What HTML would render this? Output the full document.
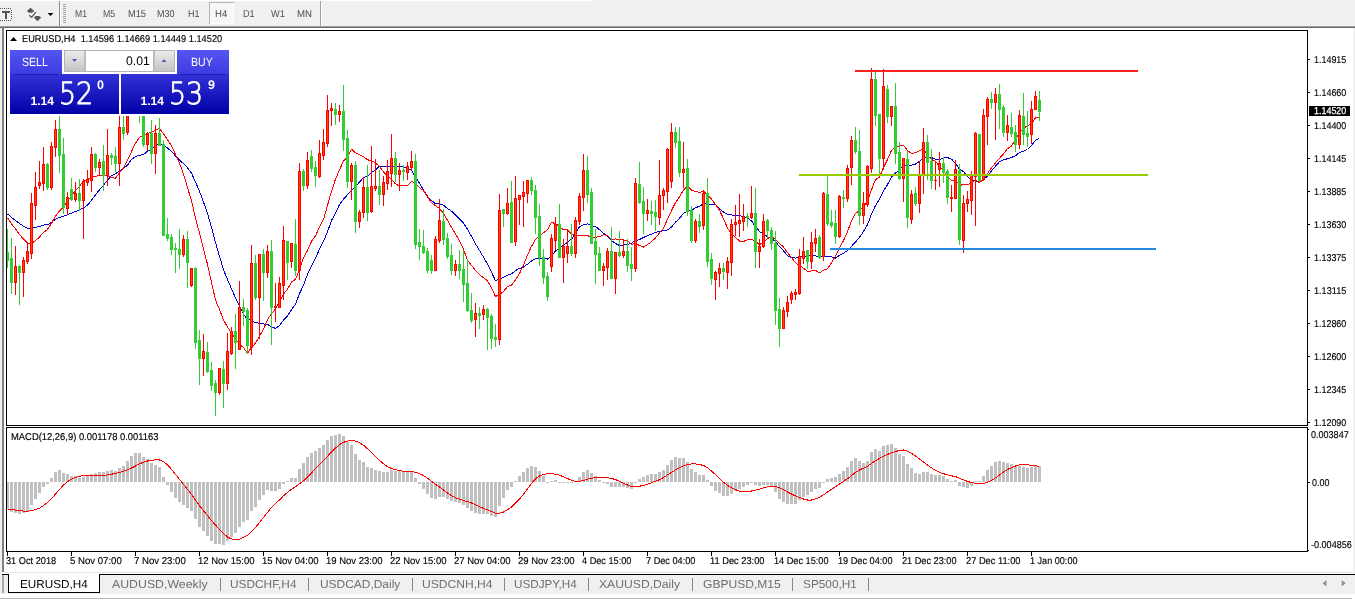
<!DOCTYPE html>
<html><head><meta charset="utf-8"><title>EURUSD,H4</title>
<style>
html,body{margin:0;padding:0;}
body{width:1355px;height:600px;overflow:hidden;background:#fff;position:relative;font-family:"Liberation Sans",sans-serif;}
.abs{position:absolute;}
.t{position:absolute;white-space:nowrap;line-height:1;text-rendering:geometricPrecision;}
.ax{font-size:9.9px;color:#000;-webkit-text-stroke:0.15px #000;}
.tf{font-size:10px;color:#4a4a4a;top:10.2px;}
.tab{font-size:11.6px;color:#6e6e6e;top:579px;}
.sep{position:absolute;top:578px;width:1px;height:13px;background:#8a8a8a;}
</style></head><body>
<!-- toolbar -->
<div class="abs" style="left:0;top:1px;width:1355px;height:25px;background:#f0f0f0"></div>
<div class="abs" style="left:593px;top:0;width:762px;height:1px;background:#f0f0f0"></div>
<div class="abs" style="left:0;top:26px;width:1355px;height:1px;background:#a0a0a0"></div>
<div class="abs" style="left:0;top:27px;width:1355px;height:1px;background:#696969"></div>
<!-- left strip -->
<div class="abs" style="left:0;top:28px;width:2px;height:546px;background:#f0f0f0"></div>
<div class="abs" style="left:2px;top:28px;width:2px;height:544px;background:#808080"></div>
<!-- right strip -->
<div class="abs" style="left:1353px;top:28px;width:2px;height:546px;background:#f0f0f0"></div>
<!-- bottom tab bar -->
<div class="abs" style="left:4px;top:572px;width:1349px;height:1px;background:#e6e6e6"></div>
<div class="abs" style="left:0;top:574px;width:1355px;height:20px;background:#f0f0f0"></div>
<div class="abs" style="left:2px;top:574px;width:1353px;height:1px;background:#000"></div>
<div class="abs" style="left:2px;top:575px;width:2px;height:18px;background:#a8a8a8"></div>
<div class="abs" style="left:0;top:594px;width:1355px;height:4px;background:#fff"></div>
<div class="abs" style="left:0;top:598px;width:1352px;height:1px;background:#b8b8b8"></div>
<!-- active tab -->
<div class="abs" style="left:8px;top:574px;width:92px;height:19px;background:#fff;border:1px solid #000;border-top:none;box-sizing:border-box"></div>
<div class="t tab" id="tb0" style="left:20.4px;color:#000;transform:scaleX(1.0104);transform-origin:0 0">EURUSD,H4</div>
<div class="t tab" id="tb1" style="left:112.2px;transform:scaleX(1.0624);transform-origin:0 0">AUDUSD,Weekly</div><div class="sep" style="left:220px"></div>
<div class="t tab" id="tb2" style="left:230.4px;transform:scaleX(1.0221);transform-origin:0 0">USDCHF,H4</div><div class="sep" style="left:308px"></div>
<div class="t tab" id="tb3" style="left:319.6px;transform:scaleX(1.0301);transform-origin:0 0">USDCAD,Daily</div><div class="sep" style="left:412px"></div>
<div class="t tab" id="tb4" style="left:422.2px;transform:scaleX(1.0423);transform-origin:0 0">USDCNH,H4</div><div class="sep" style="left:504px"></div>
<div class="t tab" id="tb5" style="left:514px;transform:scaleX(1.0081);transform-origin:0 0">USDJPY,H4</div><div class="sep" style="left:588px"></div>
<div class="t tab" id="tb6" style="left:598.9px;transform:scaleX(1.0490);transform-origin:0 0">XAUUSD,Daily</div><div class="sep" style="left:692px"></div>
<div class="t tab" id="tb7" style="left:703px;transform:scaleX(1.0408);transform-origin:0 0">GBPUSD,M15</div><div class="sep" style="left:792px"></div>
<div class="t tab" id="tb8" style="left:803px;transform:scaleX(1.0197);transform-origin:0 0">SP500,H1</div><div class="sep" style="left:868px"></div>
<svg class="abs" style="left:1318px;top:578px" width="32" height="11"><path d="M4.5 5.2 L8.5 2 L8.5 8.4 Z M27.7 5.2 L23.7 2 L23.7 8.4 Z" fill="#909090"/></svg>
<!-- toolbar content -->
<svg class="abs" style="left:0;top:0" width="340" height="28">
<!-- T icon -->
<g fill="#555" shape-rendering="crispEdges">
<rect x="2" y="11" width="8" height="1.5"/><rect x="5" y="11" width="2" height="8"/>
<rect x="0" y="8" width="1" height="1"/><rect x="0" y="20" width="1" height="1"/><rect x="2" y="8" width="1" height="1"/><rect x="2" y="20" width="1" height="1"/><rect x="4" y="8" width="1" height="1"/><rect x="4" y="20" width="1" height="1"/><rect x="6" y="8" width="1" height="1"/><rect x="6" y="20" width="1" height="1"/><rect x="8" y="8" width="1" height="1"/><rect x="8" y="20" width="1" height="1"/><rect x="10" y="8" width="1" height="1"/><rect x="10" y="20" width="1" height="1"/><rect x="11" y="10" width="1" height="1"/><rect x="-1" y="10" width="1" height="1"/><rect x="11" y="12" width="1" height="1"/><rect x="-1" y="12" width="1" height="1"/><rect x="11" y="14" width="1" height="1"/><rect x="-1" y="14" width="1" height="1"/><rect x="11" y="16" width="1" height="1"/><rect x="-1" y="16" width="1" height="1"/><rect x="11" y="18" width="1" height="1"/><rect x="-1" y="18" width="1" height="1"/>
</g>
<!-- arrows icon -->
<path d="M30.5 7.8 L34.2 11 L32 12.8 L29 12.8 L26.8 11 Z" fill="#555"/>
<path d="M37.5 21.2 L41.2 17.6 L39 16 L36 16 L33.8 17.6 Z" fill="#555"/>
<path d="M29.2 15.3 L31.6 17.4 L35.8 12.2" fill="none" stroke="#555" stroke-width="1.3"/>
<path d="M47.5 13 L53.5 13 L50.5 16 Z" fill="#000"/>
<rect x="59" y="1" width="1" height="25" fill="#8c8c8c"/>
<rect x="60" y="1" width="1" height="25" fill="#fff"/>
<g fill="#a8a8a8">
<rect x="63" y="4" width="3" height="1"/><rect x="63" y="6" width="3" height="1"/><rect x="63" y="8" width="3" height="1"/><rect x="63" y="10" width="3" height="1"/><rect x="63" y="12" width="3" height="1"/><rect x="63" y="14" width="3" height="1"/><rect x="63" y="16" width="3" height="1"/><rect x="63" y="18" width="3" height="1"/><rect x="63" y="20" width="3" height="1"/><rect x="63" y="22" width="3" height="1"/>
</g>
<rect x="209" y="2" width="25" height="22" fill="#f7f7f7"/><rect x="209" y="2" width="25" height="1" fill="#b4b4b4"/><rect x="209" y="2" width="1" height="22" fill="#b4b4b4"/><rect x="233" y="3" width="1" height="21" fill="#fff"/><rect x="210" y="23" width="24" height="1" fill="#fff"/>
<rect x="320" y="1" width="1" height="25" fill="#a0a0a0"/>
<rect x="321" y="1" width="1" height="25" fill="#fff"/>
</svg>
<div class="t tf" id="tf0" style="left:74.7px;transform:scaleX(0.8557);transform-origin:0 0">M1</div>
<div class="t tf" id="tf1" style="left:102.6px;transform:scaleX(0.8773);transform-origin:0 0">M5</div>
<div class="t tf" id="tf2" style="left:128.2px;transform:scaleX(0.9253);transform-origin:0 0">M15</div>
<div class="t tf" id="tf3" style="left:156.6px;transform:scaleX(0.8996);transform-origin:0 0">M30</div>
<div class="t tf" id="tf4" style="left:187.6px;transform:scaleX(0.8987);transform-origin:0 0">H1</div>
<div class="t tf" id="tf5" style="left:214.5px;transform:scaleX(0.9534);transform-origin:0 0">H4</div>
<div class="t tf" id="tf6" style="left:243.4px;transform:scaleX(0.9143);transform-origin:0 0">D1</div>
<div class="t tf" id="tf7" style="left:271px;transform:scaleX(0.9200);transform-origin:0 0">W1</div>
<div class="t tf" id="tf8" style="left:297.4px;transform:scaleX(0.9639);transform-origin:0 0">MN</div>

<!-- chart svg -->
<svg class="abs" style="left:0;top:0" width="1355" height="600" shape-rendering="crispEdges">
<rect x="1308" y="59" width="2" height="1" fill="#000"/>
<rect x="1308" y="92" width="2" height="1" fill="#000"/>
<rect x="1308" y="125" width="2" height="1" fill="#000"/>
<rect x="1308" y="158" width="2" height="1" fill="#000"/>
<rect x="1308" y="191" width="2" height="1" fill="#000"/>
<rect x="1308" y="224" width="2" height="1" fill="#000"/>
<rect x="1308" y="257" width="2" height="1" fill="#000"/>
<rect x="1308" y="290" width="2" height="1" fill="#000"/>
<rect x="1308" y="323" width="2" height="1" fill="#000"/>
<rect x="1308" y="356" width="2" height="1" fill="#000"/>
<rect x="1308" y="389" width="2" height="1" fill="#000"/>
<rect x="1308" y="422" width="2" height="1" fill="#000"/>
<rect x="1308" y="429" width="1" height="1" fill="#000"/>
<rect x="1308" y="482" width="2" height="1" fill="#000"/>
<rect x="1308" y="550" width="1" height="1" fill="#000"/>
<rect x="7" y="552" width="1" height="4" fill="#000"/>
<rect x="71" y="552" width="1" height="4" fill="#000"/>
<rect x="135" y="552" width="1" height="4" fill="#000"/>
<rect x="199" y="552" width="1" height="4" fill="#000"/>
<rect x="263" y="552" width="1" height="4" fill="#000"/>
<rect x="327" y="552" width="1" height="4" fill="#000"/>
<rect x="391" y="552" width="1" height="4" fill="#000"/>
<rect x="455" y="552" width="1" height="4" fill="#000"/>
<rect x="519" y="552" width="1" height="4" fill="#000"/>
<rect x="583" y="552" width="1" height="4" fill="#000"/>
<rect x="647" y="552" width="1" height="4" fill="#000"/>
<rect x="711" y="552" width="1" height="4" fill="#000"/>
<rect x="775" y="552" width="1" height="4" fill="#000"/>
<rect x="839" y="552" width="1" height="4" fill="#000"/>
<rect x="903" y="552" width="1" height="4" fill="#000"/>
<rect x="967" y="552" width="1" height="4" fill="#000"/>
<rect x="1031" y="552" width="1" height="4" fill="#000"/>
<polyline points="7.5,213.9 11.5,217.5 15.5,220.4 19.5,223.5 23.5,226.1 27.5,228.3 31.5,228.1 35.5,227.2 39.5,226.6 43.5,225.1 47.5,224.7 51.5,222.4 55.5,219.3 59.5,217.4 63.5,216.3 67.5,214.7 71.5,213.2 75.5,211.5 79.5,210.0 83.5,207.7 87.5,205.3 91.5,200.2 95.5,194.7 99.5,189.8 103.5,185.2 107.5,180.2 111.5,175.7 115.5,173.8 119.5,170.9 123.5,168.6 127.5,165.1 131.5,159.6 135.5,156.5 139.5,155.2 143.5,154.6 147.5,151.2 151.5,149.1 155.5,145.9 159.5,143.6 163.5,145.3 167.5,148.0 171.5,151.4 175.5,155.9 179.5,160.0 183.5,163.7 187.5,167.8 191.5,173.2 195.5,182.0 199.5,191.3 203.5,202.0 207.5,213.3 211.5,227.4 215.5,242.6 219.5,256.2 223.5,269.7 227.5,279.5 231.5,288.9 235.5,297.9 239.5,306.2 243.5,314.1 247.5,319.4 251.5,320.5 255.5,322.8 259.5,323.1 263.5,323.9 267.5,324.5 271.5,326.6 275.5,328.5 279.5,325.6 283.5,320.0 287.5,315.8 291.5,309.7 295.5,304.2 299.5,293.7 303.5,285.0 307.5,274.4 311.5,265.6 315.5,258.2 319.5,249.2 323.5,241.4 327.5,231.8 331.5,220.5 335.5,213.4 339.5,204.5 343.5,199.1 347.5,194.7 351.5,190.6 355.5,186.5 359.5,182.1 363.5,177.5 367.5,176.2 371.5,172.5 375.5,169.8 379.5,166.2 383.5,166.7 387.5,166.1 391.5,166.0 395.5,166.3 399.5,166.0 403.5,166.9 407.5,168.0 411.5,170.5 415.5,176.9 419.5,183.2 423.5,189.9 427.5,196.2 431.5,200.4 435.5,203.9 439.5,203.9 443.5,205.2 447.5,208.5 451.5,211.2 455.5,214.9 459.5,218.9 463.5,223.2 467.5,229.3 471.5,236.4 475.5,243.8 479.5,250.5 483.5,257.1 487.5,264.1 491.5,272.3 495.5,280.7 499.5,279.1 503.5,277.5 507.5,275.2 511.5,273.9 515.5,270.5 519.5,268.4 523.5,267.0 527.5,264.2 531.5,261.1 535.5,258.5 539.5,258.2 543.5,258.5 547.5,259.1 551.5,255.7 555.5,251.1 559.5,248.5 563.5,245.2 567.5,242.2 571.5,239.1 575.5,233.5 579.5,226.7 583.5,224.8 587.5,223.9 591.5,225.8 595.5,226.4 599.5,229.8 603.5,233.2 607.5,236.0 611.5,240.6 615.5,243.6 619.5,245.4 623.5,245.1 627.5,244.5 631.5,243.2 635.5,240.6 639.5,239.5 643.5,237.5 647.5,235.7 651.5,234.2 655.5,232.4 659.5,231.2 663.5,230.9 667.5,229.9 671.5,227.0 675.5,222.2 679.5,218.3 683.5,213.5 687.5,210.8 691.5,210.3 695.5,207.6 699.5,206.4 703.5,203.4 707.5,203.9 711.5,204.5 715.5,204.7 719.5,208.7 723.5,212.0 727.5,214.3 731.5,215.0 735.5,215.4 739.5,215.6 743.5,216.6 747.5,217.9 751.5,220.9 755.5,226.6 759.5,231.5 763.5,233.9 767.5,236.8 771.5,238.3 775.5,241.6 779.5,246.7 783.5,250.7 787.5,255.9 791.5,257.5 795.5,258.1 799.5,257.4 803.5,256.5 807.5,256.1 811.5,255.2 815.5,255.8 819.5,257.5 823.5,256.2 827.5,256.5 831.5,256.9 835.5,258.0 839.5,255.4 843.5,253.1 847.5,250.6 851.5,246.3 855.5,241.9 859.5,237.4 863.5,231.5 867.5,224.6 871.5,214.0 875.5,205.5 879.5,199.1 883.5,191.0 887.5,184.6 891.5,177.2 895.5,173.0 899.5,170.1 903.5,165.4 907.5,166.5 911.5,165.2 915.5,164.1 919.5,161.2 923.5,158.6 927.5,156.9 931.5,157.5 935.5,159.4 939.5,160.0 943.5,157.9 947.5,157.6 951.5,159.1 955.5,163.4 959.5,169.3 963.5,171.5 967.5,176.8 971.5,179.6 975.5,180.9 979.5,182.2 983.5,179.2 987.5,176.4 991.5,170.9 995.5,166.2 999.5,161.7 1003.5,159.6 1007.5,158.8 1011.5,157.5 1015.5,155.7 1019.5,152.6 1023.5,151.3 1027.5,149.5 1031.5,145.4 1035.5,140.5 1039.5,137.8" fill="none" stroke="#0000d0" stroke-width="1"/>
<polyline points="7.5,217.6 11.5,223.9 15.5,228.9 19.5,234.4 23.5,239.1 27.5,243.1 31.5,243.6 35.5,240.6 39.5,237.1 43.5,232.4 47.5,229.4 51.5,223.4 55.5,216.1 59.5,210.8 63.5,207.0 67.5,200.9 71.5,196.1 75.5,190.5 79.5,186.2 83.5,181.2 87.5,179.5 91.5,177.1 95.5,176.1 99.5,175.9 103.5,175.1 107.5,175.7 111.5,177.7 115.5,178.3 119.5,172.6 123.5,168.0 127.5,160.2 131.5,151.6 135.5,143.1 139.5,137.4 143.5,134.9 147.5,133.4 151.5,132.4 155.5,130.4 159.5,128.2 163.5,133.9 167.5,139.7 171.5,145.9 175.5,154.6 179.5,163.2 183.5,173.9 187.5,187.4 191.5,200.7 195.5,218.0 199.5,233.3 203.5,248.8 207.5,264.4 211.5,282.4 215.5,300.0 219.5,309.5 223.5,319.9 227.5,327.1 231.5,333.0 235.5,339.3 239.5,344.1 243.5,347.6 247.5,353.1 251.5,347.5 255.5,343.1 259.5,336.2 263.5,329.1 267.5,319.6 271.5,313.5 275.5,309.1 279.5,301.9 283.5,294.0 287.5,289.1 291.5,282.0 295.5,279.4 299.5,269.4 303.5,257.9 307.5,250.6 311.5,241.4 315.5,235.7 319.5,227.2 323.5,219.4 327.5,205.4 331.5,191.2 335.5,179.1 339.5,169.9 343.5,161.1 347.5,156.7 351.5,149.2 355.5,152.8 359.5,154.7 363.5,156.6 367.5,159.8 371.5,160.6 375.5,162.9 379.5,166.6 383.5,171.8 387.5,176.3 391.5,179.4 395.5,183.9 399.5,186.1 403.5,185.4 407.5,185.5 411.5,181.2 415.5,183.5 419.5,187.7 423.5,190.6 427.5,196.6 431.5,202.6 435.5,205.8 439.5,208.5 443.5,213.4 447.5,220.4 451.5,227.2 455.5,233.9 459.5,241.0 463.5,249.4 467.5,260.1 471.5,265.5 475.5,270.3 479.5,274.8 483.5,277.6 487.5,280.9 491.5,288.0 495.5,296.5 499.5,294.4 503.5,291.4 507.5,286.6 511.5,285.0 515.5,279.9 519.5,273.5 523.5,265.1 527.5,255.1 531.5,246.3 535.5,239.3 539.5,235.6 543.5,232.7 547.5,229.7 551.5,222.5 555.5,223.5 559.5,226.6 563.5,229.7 567.5,230.0 571.5,233.9 575.5,235.7 579.5,236.0 583.5,235.3 587.5,235.6 591.5,237.4 595.5,237.2 599.5,236.7 603.5,234.6 607.5,235.5 611.5,239.4 615.5,239.0 619.5,239.6 623.5,240.0 627.5,240.9 631.5,244.3 635.5,243.4 639.5,245.6 643.5,247.0 647.5,244.6 651.5,241.7 655.5,237.9 659.5,232.8 663.5,228.4 667.5,219.2 671.5,210.6 675.5,202.6 679.5,196.9 683.5,190.1 687.5,186.0 691.5,190.1 695.5,191.4 699.5,192.4 703.5,191.1 707.5,194.6 711.5,199.0 715.5,204.5 719.5,210.1 723.5,218.8 727.5,228.0 731.5,233.9 735.5,237.4 739.5,241.1 743.5,241.4 747.5,239.8 751.5,239.2 755.5,241.0 759.5,244.8 763.5,241.9 767.5,238.5 771.5,236.4 775.5,239.4 779.5,243.5 783.5,247.0 787.5,252.6 791.5,257.6 795.5,262.8 799.5,265.6 803.5,268.1 807.5,271.5 811.5,270.9 815.5,270.3 819.5,272.9 823.5,270.2 827.5,268.8 831.5,262.7 835.5,256.1 839.5,248.0 843.5,240.6 847.5,231.6 851.5,220.8 855.5,213.3 859.5,210.7 863.5,206.6 867.5,201.1 871.5,189.8 875.5,179.6 879.5,177.1 883.5,167.4 887.5,159.6 891.5,150.3 895.5,147.2 899.5,145.8 903.5,145.1 907.5,150.6 911.5,153.6 915.5,152.8 919.5,150.8 923.5,149.1 927.5,155.0 931.5,159.6 935.5,161.2 939.5,166.7 943.5,170.7 947.5,177.2 951.5,180.4 955.5,179.7 959.5,185.5 963.5,184.5 967.5,184.9 971.5,182.9 975.5,179.9 979.5,182.6 983.5,179.2 987.5,173.4 991.5,167.9 995.5,162.9 999.5,158.4 1003.5,153.8 1007.5,148.6 1011.5,146.1 1015.5,139.3 1019.5,133.0 1023.5,128.4 1027.5,125.6 1031.5,123.9 1035.5,117.9 1039.5,117.6" fill="none" stroke="#ff0000" stroke-width="1"/>
<rect x="7" y="229" width="1" height="39" fill="#32cd32"/>
<rect x="6" y="252" width="3" height="9" fill="#32cd32"/>
<rect x="11" y="238" width="1" height="56" fill="#32cd32"/>
<rect x="10" y="258" width="3" height="25" fill="#32cd32"/>
<rect x="15" y="246" width="1" height="49" fill="#ff0000"/>
<rect x="14" y="266" width="3" height="17" fill="#ff0000"/>
<rect x="15" y="267" width="1" height="15" fill="#ff4500"/>
<rect x="19" y="265" width="1" height="40" fill="#32cd32"/>
<rect x="18" y="266" width="3" height="7" fill="#32cd32"/>
<rect x="23" y="257" width="1" height="40" fill="#ff0000"/>
<rect x="22" y="260" width="3" height="13" fill="#ff0000"/>
<rect x="23" y="261" width="1" height="11" fill="#ff4500"/>
<rect x="27" y="243" width="1" height="21" fill="#ff0000"/>
<rect x="26" y="251" width="3" height="11" fill="#ff0000"/>
<rect x="27" y="252" width="1" height="9" fill="#ff4500"/>
<rect x="31" y="193" width="1" height="66" fill="#ff0000"/>
<rect x="30" y="203" width="3" height="51" fill="#ff0000"/>
<rect x="31" y="204" width="1" height="49" fill="#ff4500"/>
<rect x="35" y="172" width="1" height="48" fill="#ff0000"/>
<rect x="34" y="187" width="3" height="19" fill="#ff0000"/>
<rect x="35" y="188" width="1" height="17" fill="#ff4500"/>
<rect x="39" y="161" width="1" height="28" fill="#ff0000"/>
<rect x="38" y="182" width="3" height="4" fill="#ff0000"/>
<rect x="39" y="183" width="1" height="2" fill="#ff4500"/>
<rect x="43" y="147" width="1" height="44" fill="#ff0000"/>
<rect x="42" y="164" width="3" height="20" fill="#ff0000"/>
<rect x="43" y="165" width="1" height="18" fill="#ff4500"/>
<rect x="47" y="163" width="1" height="27" fill="#32cd32"/>
<rect x="46" y="164" width="3" height="24" fill="#32cd32"/>
<rect x="51" y="142" width="1" height="48" fill="#ff0000"/>
<rect x="50" y="146" width="3" height="42" fill="#ff0000"/>
<rect x="51" y="147" width="1" height="40" fill="#ff4500"/>
<rect x="55" y="120" width="1" height="37" fill="#ff0000"/>
<rect x="54" y="129" width="3" height="19" fill="#ff0000"/>
<rect x="55" y="130" width="1" height="17" fill="#ff4500"/>
<rect x="59" y="116" width="1" height="57" fill="#32cd32"/>
<rect x="58" y="129" width="3" height="27" fill="#32cd32"/>
<rect x="63" y="138" width="1" height="76" fill="#32cd32"/>
<rect x="62" y="154" width="3" height="54" fill="#32cd32"/>
<rect x="67" y="192" width="1" height="23" fill="#ff0000"/>
<rect x="66" y="197" width="3" height="12" fill="#ff0000"/>
<rect x="67" y="198" width="1" height="10" fill="#ff4500"/>
<rect x="71" y="178" width="1" height="23" fill="#32cd32"/>
<rect x="70" y="189" width="3" height="11" fill="#32cd32"/>
<rect x="75" y="182" width="1" height="20" fill="#ff0000"/>
<rect x="74" y="193" width="3" height="7" fill="#ff0000"/>
<rect x="75" y="194" width="1" height="5" fill="#ff4500"/>
<rect x="79" y="179" width="1" height="32" fill="#32cd32"/>
<rect x="78" y="193" width="3" height="8" fill="#32cd32"/>
<rect x="83" y="179" width="1" height="60" fill="#ff0000"/>
<rect x="82" y="181" width="3" height="20" fill="#ff0000"/>
<rect x="83" y="182" width="1" height="18" fill="#ff4500"/>
<rect x="87" y="170" width="1" height="16" fill="#ff0000"/>
<rect x="86" y="179" width="3" height="4" fill="#ff0000"/>
<rect x="87" y="180" width="1" height="2" fill="#ff4500"/>
<rect x="91" y="147" width="1" height="45" fill="#ff0000"/>
<rect x="90" y="154" width="3" height="27" fill="#ff0000"/>
<rect x="91" y="155" width="1" height="25" fill="#ff4500"/>
<rect x="95" y="153" width="1" height="19" fill="#32cd32"/>
<rect x="94" y="154" width="3" height="14" fill="#32cd32"/>
<rect x="99" y="159" width="1" height="17" fill="#ff0000"/>
<rect x="98" y="162" width="3" height="6" fill="#ff0000"/>
<rect x="99" y="163" width="1" height="4" fill="#ff4500"/>
<rect x="103" y="145" width="1" height="46" fill="#32cd32"/>
<rect x="102" y="161" width="3" height="15" fill="#32cd32"/>
<rect x="107" y="129" width="1" height="57" fill="#ff0000"/>
<rect x="106" y="155" width="3" height="21" fill="#ff0000"/>
<rect x="107" y="156" width="1" height="19" fill="#ff4500"/>
<rect x="111" y="153" width="1" height="12" fill="#32cd32"/>
<rect x="110" y="155" width="3" height="3" fill="#32cd32"/>
<rect x="115" y="147" width="1" height="25" fill="#32cd32"/>
<rect x="114" y="156" width="3" height="8" fill="#32cd32"/>
<rect x="119" y="105" width="1" height="81" fill="#ff0000"/>
<rect x="118" y="127" width="3" height="37" fill="#ff0000"/>
<rect x="119" y="128" width="1" height="35" fill="#ff4500"/>
<rect x="123" y="105" width="1" height="35" fill="#32cd32"/>
<rect x="122" y="127" width="3" height="7" fill="#32cd32"/>
<rect x="127" y="84" width="1" height="51" fill="#ff0000"/>
<rect x="126" y="90" width="3" height="43" fill="#ff0000"/>
<rect x="127" y="91" width="1" height="41" fill="#ff4500"/>
<rect x="131" y="66" width="1" height="29" fill="#ff0000"/>
<rect x="130" y="72" width="3" height="19" fill="#ff0000"/>
<rect x="131" y="73" width="1" height="17" fill="#ff4500"/>
<rect x="135" y="64" width="1" height="25" fill="#32cd32"/>
<rect x="134" y="72" width="3" height="11" fill="#32cd32"/>
<rect x="139" y="76" width="1" height="47" fill="#32cd32"/>
<rect x="138" y="82" width="3" height="19" fill="#32cd32"/>
<rect x="143" y="94" width="1" height="53" fill="#32cd32"/>
<rect x="142" y="100" width="3" height="45" fill="#32cd32"/>
<rect x="147" y="132" width="1" height="19" fill="#ff0000"/>
<rect x="146" y="134" width="3" height="11" fill="#ff0000"/>
<rect x="147" y="135" width="1" height="9" fill="#ff4500"/>
<rect x="151" y="120" width="1" height="44" fill="#32cd32"/>
<rect x="150" y="133" width="3" height="21" fill="#32cd32"/>
<rect x="155" y="125" width="1" height="49" fill="#ff0000"/>
<rect x="154" y="133" width="3" height="21" fill="#ff0000"/>
<rect x="155" y="134" width="1" height="19" fill="#ff4500"/>
<rect x="159" y="118" width="1" height="28" fill="#32cd32"/>
<rect x="158" y="133" width="3" height="13" fill="#32cd32"/>
<rect x="163" y="140" width="1" height="96" fill="#32cd32"/>
<rect x="162" y="144" width="3" height="92" fill="#32cd32"/>
<rect x="167" y="218" width="1" height="23" fill="#32cd32"/>
<rect x="166" y="234" width="3" height="5" fill="#32cd32"/>
<rect x="171" y="234" width="1" height="21" fill="#32cd32"/>
<rect x="170" y="237" width="3" height="13" fill="#32cd32"/>
<rect x="175" y="243" width="1" height="30" fill="#32cd32"/>
<rect x="174" y="248" width="3" height="2" fill="#32cd32"/>
<rect x="179" y="229" width="1" height="40" fill="#32cd32"/>
<rect x="178" y="249" width="3" height="6" fill="#32cd32"/>
<rect x="183" y="235" width="1" height="22" fill="#ff0000"/>
<rect x="182" y="239" width="3" height="16" fill="#ff0000"/>
<rect x="183" y="240" width="1" height="14" fill="#ff4500"/>
<rect x="187" y="231" width="1" height="57" fill="#32cd32"/>
<rect x="186" y="239" width="3" height="24" fill="#32cd32"/>
<rect x="191" y="268" width="1" height="19" fill="#ff0000"/>
<rect x="190" y="268" width="3" height="18" fill="#ff0000"/>
<rect x="191" y="269" width="1" height="16" fill="#ff4500"/>
<rect x="195" y="267" width="1" height="82" fill="#32cd32"/>
<rect x="194" y="268" width="3" height="75" fill="#32cd32"/>
<rect x="199" y="330" width="1" height="55" fill="#32cd32"/>
<rect x="198" y="340" width="3" height="19" fill="#32cd32"/>
<rect x="203" y="334" width="1" height="42" fill="#ff0000"/>
<rect x="202" y="351" width="3" height="8" fill="#ff0000"/>
<rect x="203" y="352" width="1" height="6" fill="#ff4500"/>
<rect x="207" y="342" width="1" height="31" fill="#32cd32"/>
<rect x="206" y="352" width="3" height="20" fill="#32cd32"/>
<rect x="211" y="362" width="1" height="29" fill="#32cd32"/>
<rect x="210" y="370" width="3" height="16" fill="#32cd32"/>
<rect x="215" y="380" width="1" height="36" fill="#32cd32"/>
<rect x="214" y="383" width="3" height="10" fill="#32cd32"/>
<rect x="219" y="368" width="1" height="27" fill="#ff0000"/>
<rect x="218" y="368" width="3" height="25" fill="#ff0000"/>
<rect x="219" y="369" width="1" height="23" fill="#ff4500"/>
<rect x="223" y="361" width="1" height="47" fill="#32cd32"/>
<rect x="222" y="369" width="3" height="15" fill="#32cd32"/>
<rect x="227" y="333" width="1" height="57" fill="#ff0000"/>
<rect x="226" y="351" width="3" height="33" fill="#ff0000"/>
<rect x="227" y="352" width="1" height="31" fill="#ff4500"/>
<rect x="231" y="327" width="1" height="28" fill="#ff0000"/>
<rect x="230" y="331" width="3" height="23" fill="#ff0000"/>
<rect x="231" y="332" width="1" height="21" fill="#ff4500"/>
<rect x="235" y="314" width="1" height="55" fill="#32cd32"/>
<rect x="234" y="331" width="3" height="12" fill="#32cd32"/>
<rect x="239" y="281" width="1" height="69" fill="#ff0000"/>
<rect x="238" y="307" width="3" height="43" fill="#ff0000"/>
<rect x="239" y="308" width="1" height="41" fill="#ff4500"/>
<rect x="243" y="299" width="1" height="27" fill="#32cd32"/>
<rect x="242" y="307" width="3" height="5" fill="#32cd32"/>
<rect x="247" y="308" width="1" height="46" fill="#32cd32"/>
<rect x="246" y="310" width="3" height="36" fill="#32cd32"/>
<rect x="251" y="245" width="1" height="110" fill="#ff0000"/>
<rect x="250" y="263" width="3" height="85" fill="#ff0000"/>
<rect x="251" y="264" width="1" height="83" fill="#ff4500"/>
<rect x="255" y="255" width="1" height="45" fill="#32cd32"/>
<rect x="254" y="263" width="3" height="35" fill="#32cd32"/>
<rect x="259" y="254" width="1" height="85" fill="#ff0000"/>
<rect x="258" y="254" width="3" height="44" fill="#ff0000"/>
<rect x="259" y="255" width="1" height="42" fill="#ff4500"/>
<rect x="263" y="249" width="1" height="52" fill="#32cd32"/>
<rect x="262" y="254" width="3" height="19" fill="#32cd32"/>
<rect x="267" y="245" width="1" height="33" fill="#ff0000"/>
<rect x="266" y="251" width="3" height="22" fill="#ff0000"/>
<rect x="267" y="252" width="1" height="20" fill="#ff4500"/>
<rect x="271" y="240" width="1" height="105" fill="#32cd32"/>
<rect x="270" y="251" width="3" height="57" fill="#32cd32"/>
<rect x="275" y="283" width="1" height="39" fill="#ff0000"/>
<rect x="274" y="306" width="3" height="2" fill="#ff0000"/>
<rect x="279" y="277" width="1" height="31" fill="#ff0000"/>
<rect x="278" y="283" width="3" height="25" fill="#ff0000"/>
<rect x="279" y="284" width="1" height="23" fill="#ff4500"/>
<rect x="283" y="226" width="1" height="74" fill="#ff0000"/>
<rect x="282" y="240" width="3" height="46" fill="#ff0000"/>
<rect x="283" y="241" width="1" height="44" fill="#ff4500"/>
<rect x="287" y="241" width="1" height="39" fill="#32cd32"/>
<rect x="286" y="241" width="3" height="22" fill="#32cd32"/>
<rect x="291" y="243" width="1" height="25" fill="#ff0000"/>
<rect x="290" y="243" width="3" height="19" fill="#ff0000"/>
<rect x="291" y="244" width="1" height="17" fill="#ff4500"/>
<rect x="295" y="219" width="1" height="57" fill="#32cd32"/>
<rect x="294" y="244" width="3" height="27" fill="#32cd32"/>
<rect x="299" y="163" width="1" height="117" fill="#ff0000"/>
<rect x="298" y="171" width="3" height="100" fill="#ff0000"/>
<rect x="299" y="172" width="1" height="98" fill="#ff4500"/>
<rect x="303" y="169" width="1" height="22" fill="#32cd32"/>
<rect x="302" y="171" width="3" height="15" fill="#32cd32"/>
<rect x="307" y="152" width="1" height="37" fill="#ff0000"/>
<rect x="306" y="160" width="3" height="26" fill="#ff0000"/>
<rect x="307" y="161" width="1" height="24" fill="#ff4500"/>
<rect x="311" y="150" width="1" height="22" fill="#32cd32"/>
<rect x="310" y="156" width="3" height="13" fill="#32cd32"/>
<rect x="315" y="161" width="1" height="26" fill="#32cd32"/>
<rect x="314" y="167" width="3" height="9" fill="#32cd32"/>
<rect x="319" y="140" width="1" height="38" fill="#ff0000"/>
<rect x="318" y="153" width="3" height="24" fill="#ff0000"/>
<rect x="319" y="154" width="1" height="22" fill="#ff4500"/>
<rect x="323" y="129" width="1" height="31" fill="#ff0000"/>
<rect x="322" y="142" width="3" height="14" fill="#ff0000"/>
<rect x="323" y="143" width="1" height="12" fill="#ff4500"/>
<rect x="327" y="95" width="1" height="52" fill="#ff0000"/>
<rect x="326" y="110" width="3" height="34" fill="#ff0000"/>
<rect x="327" y="111" width="1" height="32" fill="#ff4500"/>
<rect x="331" y="103" width="1" height="23" fill="#ff0000"/>
<rect x="330" y="108" width="3" height="3" fill="#ff0000"/>
<rect x="331" y="109" width="1" height="1" fill="#ff4500"/>
<rect x="335" y="103" width="1" height="22" fill="#32cd32"/>
<rect x="334" y="109" width="3" height="6" fill="#32cd32"/>
<rect x="339" y="105" width="1" height="17" fill="#ff0000"/>
<rect x="338" y="111" width="3" height="4" fill="#ff0000"/>
<rect x="339" y="112" width="1" height="2" fill="#ff4500"/>
<rect x="343" y="85" width="1" height="66" fill="#32cd32"/>
<rect x="342" y="111" width="3" height="29" fill="#32cd32"/>
<rect x="347" y="130" width="1" height="58" fill="#32cd32"/>
<rect x="346" y="138" width="3" height="44" fill="#32cd32"/>
<rect x="351" y="163" width="1" height="37" fill="#ff0000"/>
<rect x="350" y="165" width="3" height="17" fill="#ff0000"/>
<rect x="351" y="166" width="1" height="15" fill="#ff4500"/>
<rect x="355" y="161" width="1" height="72" fill="#32cd32"/>
<rect x="354" y="165" width="3" height="57" fill="#32cd32"/>
<rect x="359" y="210" width="1" height="18" fill="#ff0000"/>
<rect x="358" y="212" width="3" height="10" fill="#ff0000"/>
<rect x="359" y="213" width="1" height="8" fill="#ff4500"/>
<rect x="363" y="177" width="1" height="41" fill="#ff0000"/>
<rect x="362" y="187" width="3" height="26" fill="#ff0000"/>
<rect x="363" y="188" width="1" height="24" fill="#ff4500"/>
<rect x="367" y="165" width="1" height="56" fill="#32cd32"/>
<rect x="366" y="187" width="3" height="26" fill="#32cd32"/>
<rect x="371" y="146" width="1" height="67" fill="#ff0000"/>
<rect x="370" y="186" width="3" height="26" fill="#ff0000"/>
<rect x="371" y="187" width="1" height="24" fill="#ff4500"/>
<rect x="375" y="159" width="1" height="32" fill="#ff0000"/>
<rect x="374" y="186" width="3" height="3" fill="#ff0000"/>
<rect x="375" y="187" width="1" height="1" fill="#ff4500"/>
<rect x="379" y="170" width="1" height="35" fill="#32cd32"/>
<rect x="378" y="186" width="3" height="9" fill="#32cd32"/>
<rect x="383" y="176" width="1" height="30" fill="#ff0000"/>
<rect x="382" y="182" width="3" height="13" fill="#ff0000"/>
<rect x="383" y="183" width="1" height="11" fill="#ff4500"/>
<rect x="387" y="160" width="1" height="30" fill="#ff0000"/>
<rect x="386" y="171" width="3" height="13" fill="#ff0000"/>
<rect x="387" y="172" width="1" height="11" fill="#ff4500"/>
<rect x="391" y="134" width="1" height="53" fill="#ff0000"/>
<rect x="390" y="158" width="3" height="16" fill="#ff0000"/>
<rect x="391" y="159" width="1" height="14" fill="#ff4500"/>
<rect x="395" y="152" width="1" height="30" fill="#32cd32"/>
<rect x="394" y="158" width="3" height="17" fill="#32cd32"/>
<rect x="399" y="163" width="1" height="28" fill="#ff0000"/>
<rect x="398" y="170" width="3" height="5" fill="#ff0000"/>
<rect x="399" y="171" width="1" height="3" fill="#ff4500"/>
<rect x="403" y="165" width="1" height="16" fill="#32cd32"/>
<rect x="402" y="170" width="3" height="2" fill="#32cd32"/>
<rect x="407" y="162" width="1" height="18" fill="#ff0000"/>
<rect x="406" y="166" width="3" height="7" fill="#ff0000"/>
<rect x="407" y="167" width="1" height="5" fill="#ff4500"/>
<rect x="411" y="151" width="1" height="19" fill="#ff0000"/>
<rect x="410" y="161" width="3" height="7" fill="#ff0000"/>
<rect x="411" y="162" width="1" height="5" fill="#ff4500"/>
<rect x="415" y="154" width="1" height="95" fill="#32cd32"/>
<rect x="414" y="161" width="3" height="84" fill="#32cd32"/>
<rect x="419" y="229" width="1" height="31" fill="#32cd32"/>
<rect x="418" y="242" width="3" height="5" fill="#32cd32"/>
<rect x="423" y="230" width="1" height="24" fill="#32cd32"/>
<rect x="422" y="246" width="3" height="7" fill="#32cd32"/>
<rect x="427" y="248" width="1" height="25" fill="#32cd32"/>
<rect x="426" y="251" width="3" height="20" fill="#32cd32"/>
<rect x="431" y="255" width="1" height="19" fill="#32cd32"/>
<rect x="430" y="260" width="3" height="11" fill="#32cd32"/>
<rect x="435" y="236" width="1" height="35" fill="#ff0000"/>
<rect x="434" y="239" width="3" height="32" fill="#ff0000"/>
<rect x="435" y="240" width="1" height="30" fill="#ff4500"/>
<rect x="439" y="199" width="1" height="44" fill="#ff0000"/>
<rect x="438" y="220" width="3" height="21" fill="#ff0000"/>
<rect x="439" y="221" width="1" height="19" fill="#ff4500"/>
<rect x="443" y="209" width="1" height="36" fill="#32cd32"/>
<rect x="442" y="221" width="3" height="19" fill="#32cd32"/>
<rect x="447" y="233" width="1" height="26" fill="#32cd32"/>
<rect x="446" y="238" width="3" height="19" fill="#32cd32"/>
<rect x="451" y="244" width="1" height="31" fill="#32cd32"/>
<rect x="450" y="255" width="3" height="16" fill="#32cd32"/>
<rect x="455" y="260" width="1" height="16" fill="#ff0000"/>
<rect x="454" y="264" width="3" height="7" fill="#ff0000"/>
<rect x="455" y="265" width="1" height="5" fill="#ff4500"/>
<rect x="459" y="250" width="1" height="29" fill="#32cd32"/>
<rect x="458" y="264" width="3" height="7" fill="#32cd32"/>
<rect x="463" y="251" width="1" height="51" fill="#32cd32"/>
<rect x="462" y="269" width="3" height="16" fill="#32cd32"/>
<rect x="467" y="259" width="1" height="53" fill="#32cd32"/>
<rect x="466" y="283" width="3" height="28" fill="#32cd32"/>
<rect x="471" y="293" width="1" height="30" fill="#32cd32"/>
<rect x="470" y="310" width="3" height="11" fill="#32cd32"/>
<rect x="475" y="303" width="1" height="34" fill="#ff0000"/>
<rect x="474" y="313" width="3" height="7" fill="#ff0000"/>
<rect x="475" y="314" width="1" height="5" fill="#ff4500"/>
<rect x="479" y="307" width="1" height="22" fill="#32cd32"/>
<rect x="478" y="313" width="3" height="3" fill="#32cd32"/>
<rect x="483" y="305" width="1" height="15" fill="#ff0000"/>
<rect x="482" y="309" width="3" height="6" fill="#ff0000"/>
<rect x="483" y="310" width="1" height="4" fill="#ff4500"/>
<rect x="487" y="308" width="1" height="42" fill="#32cd32"/>
<rect x="486" y="309" width="3" height="9" fill="#32cd32"/>
<rect x="491" y="314" width="1" height="35" fill="#32cd32"/>
<rect x="490" y="316" width="3" height="23" fill="#32cd32"/>
<rect x="495" y="324" width="1" height="23" fill="#32cd32"/>
<rect x="494" y="337" width="3" height="3" fill="#32cd32"/>
<rect x="499" y="194" width="1" height="151" fill="#ff0000"/>
<rect x="498" y="210" width="3" height="130" fill="#ff0000"/>
<rect x="499" y="211" width="1" height="128" fill="#ff4500"/>
<rect x="503" y="209" width="1" height="18" fill="#32cd32"/>
<rect x="502" y="209" width="3" height="5" fill="#32cd32"/>
<rect x="507" y="188" width="1" height="27" fill="#ff0000"/>
<rect x="506" y="203" width="3" height="11" fill="#ff0000"/>
<rect x="507" y="204" width="1" height="9" fill="#ff4500"/>
<rect x="511" y="181" width="1" height="62" fill="#32cd32"/>
<rect x="510" y="202" width="3" height="41" fill="#32cd32"/>
<rect x="515" y="176" width="1" height="70" fill="#ff0000"/>
<rect x="514" y="198" width="3" height="44" fill="#ff0000"/>
<rect x="515" y="199" width="1" height="42" fill="#ff4500"/>
<rect x="519" y="195" width="1" height="30" fill="#ff0000"/>
<rect x="518" y="195" width="3" height="5" fill="#ff0000"/>
<rect x="519" y="196" width="1" height="3" fill="#ff4500"/>
<rect x="523" y="181" width="1" height="46" fill="#ff0000"/>
<rect x="522" y="192" width="3" height="5" fill="#ff0000"/>
<rect x="523" y="193" width="1" height="3" fill="#ff4500"/>
<rect x="527" y="180" width="1" height="23" fill="#ff0000"/>
<rect x="526" y="180" width="3" height="14" fill="#ff0000"/>
<rect x="527" y="181" width="1" height="12" fill="#ff4500"/>
<rect x="531" y="177" width="1" height="18" fill="#32cd32"/>
<rect x="530" y="180" width="3" height="11" fill="#32cd32"/>
<rect x="535" y="185" width="1" height="49" fill="#32cd32"/>
<rect x="534" y="190" width="3" height="28" fill="#32cd32"/>
<rect x="539" y="204" width="1" height="62" fill="#32cd32"/>
<rect x="538" y="216" width="3" height="42" fill="#32cd32"/>
<rect x="543" y="249" width="1" height="35" fill="#32cd32"/>
<rect x="542" y="257" width="3" height="21" fill="#32cd32"/>
<rect x="547" y="272" width="1" height="29" fill="#32cd32"/>
<rect x="546" y="276" width="3" height="21" fill="#32cd32"/>
<rect x="551" y="234" width="1" height="38" fill="#ff0000"/>
<rect x="550" y="238" width="3" height="29" fill="#ff0000"/>
<rect x="551" y="239" width="1" height="27" fill="#ff4500"/>
<rect x="555" y="217" width="1" height="33" fill="#ff0000"/>
<rect x="554" y="224" width="3" height="17" fill="#ff0000"/>
<rect x="555" y="225" width="1" height="15" fill="#ff4500"/>
<rect x="559" y="204" width="1" height="54" fill="#32cd32"/>
<rect x="558" y="224" width="3" height="34" fill="#32cd32"/>
<rect x="563" y="239" width="1" height="44" fill="#ff0000"/>
<rect x="562" y="246" width="3" height="12" fill="#ff0000"/>
<rect x="563" y="247" width="1" height="10" fill="#ff4500"/>
<rect x="567" y="231" width="1" height="32" fill="#ff0000"/>
<rect x="566" y="246" width="3" height="8" fill="#ff0000"/>
<rect x="567" y="247" width="1" height="6" fill="#ff4500"/>
<rect x="571" y="224" width="1" height="32" fill="#32cd32"/>
<rect x="570" y="246" width="3" height="8" fill="#32cd32"/>
<rect x="575" y="217" width="1" height="41" fill="#ff0000"/>
<rect x="574" y="220" width="3" height="34" fill="#ff0000"/>
<rect x="575" y="221" width="1" height="32" fill="#ff4500"/>
<rect x="579" y="193" width="1" height="32" fill="#ff0000"/>
<rect x="578" y="196" width="3" height="26" fill="#ff0000"/>
<rect x="579" y="197" width="1" height="24" fill="#ff4500"/>
<rect x="583" y="154" width="1" height="57" fill="#ff0000"/>
<rect x="582" y="170" width="3" height="28" fill="#ff0000"/>
<rect x="583" y="171" width="1" height="26" fill="#ff4500"/>
<rect x="587" y="156" width="1" height="47" fill="#32cd32"/>
<rect x="586" y="170" width="3" height="25" fill="#32cd32"/>
<rect x="591" y="188" width="1" height="56" fill="#32cd32"/>
<rect x="590" y="192" width="3" height="52" fill="#32cd32"/>
<rect x="595" y="229" width="1" height="55" fill="#32cd32"/>
<rect x="594" y="241" width="3" height="14" fill="#32cd32"/>
<rect x="599" y="247" width="1" height="24" fill="#32cd32"/>
<rect x="598" y="253" width="3" height="18" fill="#32cd32"/>
<rect x="603" y="263" width="1" height="23" fill="#ff0000"/>
<rect x="602" y="266" width="3" height="5" fill="#ff0000"/>
<rect x="603" y="267" width="1" height="3" fill="#ff4500"/>
<rect x="607" y="248" width="1" height="32" fill="#ff0000"/>
<rect x="606" y="251" width="3" height="17" fill="#ff0000"/>
<rect x="607" y="252" width="1" height="15" fill="#ff4500"/>
<rect x="611" y="227" width="1" height="52" fill="#32cd32"/>
<rect x="610" y="251" width="3" height="28" fill="#32cd32"/>
<rect x="615" y="252" width="1" height="42" fill="#ff0000"/>
<rect x="614" y="252" width="3" height="27" fill="#ff0000"/>
<rect x="615" y="253" width="1" height="25" fill="#ff4500"/>
<rect x="619" y="231" width="1" height="26" fill="#32cd32"/>
<rect x="618" y="252" width="3" height="4" fill="#32cd32"/>
<rect x="623" y="239" width="1" height="19" fill="#ff0000"/>
<rect x="622" y="251" width="3" height="5" fill="#ff0000"/>
<rect x="623" y="252" width="1" height="3" fill="#ff4500"/>
<rect x="627" y="239" width="1" height="33" fill="#32cd32"/>
<rect x="626" y="251" width="3" height="15" fill="#32cd32"/>
<rect x="631" y="247" width="1" height="34" fill="#32cd32"/>
<rect x="630" y="264" width="3" height="5" fill="#32cd32"/>
<rect x="635" y="178" width="1" height="94" fill="#ff0000"/>
<rect x="634" y="183" width="3" height="86" fill="#ff0000"/>
<rect x="635" y="184" width="1" height="84" fill="#ff4500"/>
<rect x="639" y="162" width="1" height="42" fill="#32cd32"/>
<rect x="638" y="184" width="3" height="19" fill="#32cd32"/>
<rect x="643" y="187" width="1" height="47" fill="#32cd32"/>
<rect x="642" y="201" width="3" height="13" fill="#32cd32"/>
<rect x="647" y="199" width="1" height="22" fill="#ff0000"/>
<rect x="646" y="210" width="3" height="4" fill="#ff0000"/>
<rect x="647" y="211" width="1" height="2" fill="#ff4500"/>
<rect x="651" y="201" width="1" height="24" fill="#32cd32"/>
<rect x="650" y="211" width="3" height="3" fill="#32cd32"/>
<rect x="655" y="200" width="1" height="31" fill="#32cd32"/>
<rect x="654" y="212" width="3" height="5" fill="#32cd32"/>
<rect x="659" y="160" width="1" height="65" fill="#ff0000"/>
<rect x="658" y="195" width="3" height="23" fill="#ff0000"/>
<rect x="659" y="196" width="1" height="21" fill="#ff4500"/>
<rect x="663" y="188" width="1" height="22" fill="#ff0000"/>
<rect x="662" y="190" width="3" height="6" fill="#ff0000"/>
<rect x="663" y="191" width="1" height="4" fill="#ff4500"/>
<rect x="667" y="148" width="1" height="55" fill="#ff0000"/>
<rect x="666" y="149" width="3" height="43" fill="#ff0000"/>
<rect x="667" y="150" width="1" height="41" fill="#ff4500"/>
<rect x="671" y="123" width="1" height="65" fill="#ff0000"/>
<rect x="670" y="132" width="3" height="50" fill="#ff0000"/>
<rect x="671" y="133" width="1" height="48" fill="#ff4500"/>
<rect x="675" y="127" width="1" height="21" fill="#32cd32"/>
<rect x="674" y="132" width="3" height="11" fill="#32cd32"/>
<rect x="679" y="127" width="1" height="50" fill="#32cd32"/>
<rect x="678" y="141" width="3" height="32" fill="#32cd32"/>
<rect x="683" y="142" width="1" height="46" fill="#ff0000"/>
<rect x="682" y="169" width="3" height="4" fill="#ff0000"/>
<rect x="683" y="170" width="1" height="2" fill="#ff4500"/>
<rect x="687" y="159" width="1" height="57" fill="#32cd32"/>
<rect x="686" y="168" width="3" height="44" fill="#32cd32"/>
<rect x="691" y="206" width="1" height="37" fill="#32cd32"/>
<rect x="690" y="210" width="3" height="31" fill="#32cd32"/>
<rect x="695" y="219" width="1" height="24" fill="#ff0000"/>
<rect x="694" y="221" width="3" height="20" fill="#ff0000"/>
<rect x="695" y="222" width="1" height="18" fill="#ff4500"/>
<rect x="699" y="214" width="1" height="19" fill="#32cd32"/>
<rect x="698" y="221" width="3" height="6" fill="#32cd32"/>
<rect x="703" y="190" width="1" height="40" fill="#ff0000"/>
<rect x="702" y="193" width="3" height="33" fill="#ff0000"/>
<rect x="703" y="194" width="1" height="31" fill="#ff4500"/>
<rect x="707" y="178" width="1" height="89" fill="#32cd32"/>
<rect x="706" y="193" width="3" height="69" fill="#32cd32"/>
<rect x="711" y="253" width="1" height="32" fill="#32cd32"/>
<rect x="710" y="259" width="3" height="20" fill="#32cd32"/>
<rect x="715" y="271" width="1" height="29" fill="#ff0000"/>
<rect x="714" y="272" width="3" height="8" fill="#ff0000"/>
<rect x="715" y="273" width="1" height="6" fill="#ff4500"/>
<rect x="719" y="263" width="1" height="24" fill="#ff0000"/>
<rect x="718" y="268" width="3" height="6" fill="#ff0000"/>
<rect x="719" y="269" width="1" height="4" fill="#ff4500"/>
<rect x="723" y="263" width="1" height="17" fill="#32cd32"/>
<rect x="722" y="268" width="3" height="4" fill="#32cd32"/>
<rect x="727" y="257" width="1" height="32" fill="#ff0000"/>
<rect x="726" y="261" width="3" height="12" fill="#ff0000"/>
<rect x="727" y="262" width="1" height="10" fill="#ff4500"/>
<rect x="731" y="219" width="1" height="57" fill="#ff0000"/>
<rect x="730" y="224" width="3" height="39" fill="#ff0000"/>
<rect x="731" y="225" width="1" height="37" fill="#ff4500"/>
<rect x="735" y="205" width="1" height="31" fill="#ff0000"/>
<rect x="734" y="222" width="3" height="3" fill="#ff0000"/>
<rect x="735" y="223" width="1" height="1" fill="#ff4500"/>
<rect x="739" y="194" width="1" height="43" fill="#ff0000"/>
<rect x="738" y="220" width="3" height="4" fill="#ff0000"/>
<rect x="739" y="221" width="1" height="2" fill="#ff4500"/>
<rect x="743" y="204" width="1" height="27" fill="#ff0000"/>
<rect x="742" y="216" width="3" height="6" fill="#ff0000"/>
<rect x="743" y="217" width="1" height="4" fill="#ff4500"/>
<rect x="747" y="213" width="1" height="14" fill="#32cd32"/>
<rect x="746" y="216" width="3" height="2" fill="#32cd32"/>
<rect x="751" y="186" width="1" height="33" fill="#ff0000"/>
<rect x="750" y="213" width="3" height="5" fill="#ff0000"/>
<rect x="751" y="214" width="1" height="3" fill="#ff4500"/>
<rect x="755" y="188" width="1" height="80" fill="#32cd32"/>
<rect x="754" y="213" width="3" height="39" fill="#32cd32"/>
<rect x="759" y="239" width="1" height="29" fill="#ff0000"/>
<rect x="758" y="246" width="3" height="6" fill="#ff0000"/>
<rect x="759" y="247" width="1" height="4" fill="#ff4500"/>
<rect x="763" y="214" width="1" height="34" fill="#ff0000"/>
<rect x="762" y="221" width="3" height="26" fill="#ff0000"/>
<rect x="763" y="222" width="1" height="24" fill="#ff4500"/>
<rect x="767" y="219" width="1" height="19" fill="#32cd32"/>
<rect x="766" y="220" width="3" height="11" fill="#32cd32"/>
<rect x="771" y="227" width="1" height="23" fill="#32cd32"/>
<rect x="770" y="230" width="3" height="14" fill="#32cd32"/>
<rect x="775" y="231" width="1" height="94" fill="#32cd32"/>
<rect x="774" y="243" width="3" height="68" fill="#32cd32"/>
<rect x="779" y="298" width="1" height="49" fill="#32cd32"/>
<rect x="778" y="309" width="3" height="20" fill="#32cd32"/>
<rect x="783" y="307" width="1" height="22" fill="#ff0000"/>
<rect x="782" y="310" width="3" height="19" fill="#ff0000"/>
<rect x="783" y="311" width="1" height="17" fill="#ff4500"/>
<rect x="787" y="296" width="1" height="21" fill="#ff0000"/>
<rect x="786" y="302" width="3" height="10" fill="#ff0000"/>
<rect x="787" y="303" width="1" height="8" fill="#ff4500"/>
<rect x="791" y="291" width="1" height="13" fill="#ff0000"/>
<rect x="790" y="293" width="3" height="7" fill="#ff0000"/>
<rect x="791" y="294" width="1" height="5" fill="#ff4500"/>
<rect x="795" y="289" width="1" height="11" fill="#ff0000"/>
<rect x="794" y="292" width="3" height="3" fill="#ff0000"/>
<rect x="795" y="293" width="1" height="1" fill="#ff4500"/>
<rect x="799" y="249" width="1" height="46" fill="#ff0000"/>
<rect x="798" y="256" width="3" height="38" fill="#ff0000"/>
<rect x="799" y="257" width="1" height="36" fill="#ff4500"/>
<rect x="803" y="237" width="1" height="27" fill="#ff0000"/>
<rect x="802" y="251" width="3" height="8" fill="#ff0000"/>
<rect x="803" y="252" width="1" height="6" fill="#ff4500"/>
<rect x="807" y="250" width="1" height="19" fill="#32cd32"/>
<rect x="806" y="250" width="3" height="12" fill="#32cd32"/>
<rect x="811" y="232" width="1" height="37" fill="#ff0000"/>
<rect x="810" y="242" width="3" height="20" fill="#ff0000"/>
<rect x="811" y="243" width="1" height="18" fill="#ff4500"/>
<rect x="815" y="229" width="1" height="23" fill="#ff0000"/>
<rect x="814" y="238" width="3" height="6" fill="#ff0000"/>
<rect x="815" y="239" width="1" height="4" fill="#ff4500"/>
<rect x="819" y="235" width="1" height="24" fill="#32cd32"/>
<rect x="818" y="237" width="3" height="21" fill="#32cd32"/>
<rect x="823" y="192" width="1" height="69" fill="#ff0000"/>
<rect x="822" y="193" width="3" height="64" fill="#ff0000"/>
<rect x="823" y="194" width="1" height="62" fill="#ff4500"/>
<rect x="827" y="175" width="1" height="51" fill="#32cd32"/>
<rect x="826" y="194" width="3" height="30" fill="#32cd32"/>
<rect x="831" y="210" width="1" height="18" fill="#32cd32"/>
<rect x="830" y="222" width="3" height="4" fill="#32cd32"/>
<rect x="835" y="210" width="1" height="34" fill="#32cd32"/>
<rect x="834" y="223" width="3" height="14" fill="#32cd32"/>
<rect x="839" y="195" width="1" height="43" fill="#ff0000"/>
<rect x="838" y="196" width="3" height="41" fill="#ff0000"/>
<rect x="839" y="197" width="1" height="39" fill="#ff4500"/>
<rect x="843" y="190" width="1" height="18" fill="#32cd32"/>
<rect x="842" y="197" width="3" height="2" fill="#32cd32"/>
<rect x="847" y="165" width="1" height="37" fill="#ff0000"/>
<rect x="846" y="168" width="3" height="31" fill="#ff0000"/>
<rect x="847" y="169" width="1" height="29" fill="#ff4500"/>
<rect x="851" y="136" width="1" height="49" fill="#ff0000"/>
<rect x="850" y="140" width="3" height="28" fill="#ff0000"/>
<rect x="851" y="141" width="1" height="26" fill="#ff4500"/>
<rect x="855" y="127" width="1" height="27" fill="#32cd32"/>
<rect x="854" y="140" width="3" height="12" fill="#32cd32"/>
<rect x="859" y="130" width="1" height="95" fill="#32cd32"/>
<rect x="858" y="151" width="3" height="65" fill="#32cd32"/>
<rect x="863" y="192" width="1" height="32" fill="#ff0000"/>
<rect x="862" y="203" width="3" height="13" fill="#ff0000"/>
<rect x="863" y="204" width="1" height="11" fill="#ff4500"/>
<rect x="867" y="165" width="1" height="42" fill="#ff0000"/>
<rect x="866" y="166" width="3" height="39" fill="#ff0000"/>
<rect x="867" y="167" width="1" height="37" fill="#ff4500"/>
<rect x="871" y="68" width="1" height="105" fill="#ff0000"/>
<rect x="870" y="79" width="3" height="90" fill="#ff0000"/>
<rect x="871" y="80" width="1" height="88" fill="#ff4500"/>
<rect x="875" y="72" width="1" height="54" fill="#32cd32"/>
<rect x="874" y="79" width="3" height="37" fill="#32cd32"/>
<rect x="879" y="114" width="1" height="61" fill="#32cd32"/>
<rect x="878" y="114" width="3" height="45" fill="#32cd32"/>
<rect x="883" y="69" width="1" height="101" fill="#ff0000"/>
<rect x="882" y="86" width="3" height="73" fill="#ff0000"/>
<rect x="883" y="87" width="1" height="71" fill="#ff4500"/>
<rect x="887" y="85" width="1" height="38" fill="#32cd32"/>
<rect x="886" y="89" width="3" height="28" fill="#32cd32"/>
<rect x="891" y="106" width="1" height="20" fill="#ff0000"/>
<rect x="890" y="106" width="3" height="11" fill="#ff0000"/>
<rect x="891" y="107" width="1" height="9" fill="#ff4500"/>
<rect x="895" y="83" width="1" height="81" fill="#32cd32"/>
<rect x="894" y="106" width="3" height="48" fill="#32cd32"/>
<rect x="899" y="142" width="1" height="38" fill="#32cd32"/>
<rect x="898" y="152" width="3" height="27" fill="#32cd32"/>
<rect x="903" y="158" width="1" height="44" fill="#ff0000"/>
<rect x="902" y="158" width="3" height="21" fill="#ff0000"/>
<rect x="903" y="159" width="1" height="19" fill="#ff4500"/>
<rect x="907" y="151" width="1" height="77" fill="#32cd32"/>
<rect x="906" y="159" width="3" height="59" fill="#32cd32"/>
<rect x="911" y="190" width="1" height="34" fill="#ff0000"/>
<rect x="910" y="194" width="3" height="26" fill="#ff0000"/>
<rect x="911" y="195" width="1" height="24" fill="#ff4500"/>
<rect x="915" y="187" width="1" height="19" fill="#32cd32"/>
<rect x="914" y="193" width="3" height="11" fill="#32cd32"/>
<rect x="919" y="161" width="1" height="52" fill="#ff0000"/>
<rect x="918" y="175" width="3" height="29" fill="#ff0000"/>
<rect x="919" y="176" width="1" height="27" fill="#ff4500"/>
<rect x="923" y="128" width="1" height="66" fill="#ff0000"/>
<rect x="922" y="142" width="3" height="34" fill="#ff0000"/>
<rect x="923" y="143" width="1" height="32" fill="#ff4500"/>
<rect x="927" y="135" width="1" height="45" fill="#32cd32"/>
<rect x="926" y="142" width="3" height="21" fill="#32cd32"/>
<rect x="931" y="149" width="1" height="40" fill="#32cd32"/>
<rect x="930" y="161" width="3" height="20" fill="#32cd32"/>
<rect x="935" y="161" width="1" height="29" fill="#ff0000"/>
<rect x="934" y="180" width="3" height="1" fill="#ff0000"/>
<rect x="939" y="152" width="1" height="35" fill="#ff0000"/>
<rect x="938" y="163" width="3" height="7" fill="#ff0000"/>
<rect x="939" y="164" width="1" height="5" fill="#ff4500"/>
<rect x="943" y="157" width="1" height="26" fill="#32cd32"/>
<rect x="942" y="163" width="3" height="10" fill="#32cd32"/>
<rect x="947" y="169" width="1" height="35" fill="#32cd32"/>
<rect x="946" y="171" width="3" height="27" fill="#32cd32"/>
<rect x="951" y="185" width="1" height="27" fill="#ff0000"/>
<rect x="950" y="197" width="3" height="2" fill="#ff0000"/>
<rect x="955" y="160" width="1" height="39" fill="#ff0000"/>
<rect x="954" y="169" width="3" height="30" fill="#ff0000"/>
<rect x="955" y="170" width="1" height="28" fill="#ff4500"/>
<rect x="959" y="164" width="1" height="81" fill="#32cd32"/>
<rect x="958" y="170" width="3" height="70" fill="#32cd32"/>
<rect x="963" y="195" width="1" height="58" fill="#ff0000"/>
<rect x="962" y="203" width="3" height="38" fill="#ff0000"/>
<rect x="963" y="204" width="1" height="36" fill="#ff4500"/>
<rect x="967" y="191" width="1" height="21" fill="#ff0000"/>
<rect x="966" y="199" width="3" height="5" fill="#ff0000"/>
<rect x="967" y="200" width="1" height="3" fill="#ff4500"/>
<rect x="971" y="171" width="1" height="44" fill="#ff0000"/>
<rect x="970" y="175" width="3" height="26" fill="#ff0000"/>
<rect x="971" y="176" width="1" height="24" fill="#ff4500"/>
<rect x="975" y="132" width="1" height="94" fill="#ff0000"/>
<rect x="974" y="133" width="3" height="44" fill="#ff0000"/>
<rect x="975" y="134" width="1" height="42" fill="#ff4500"/>
<rect x="979" y="134" width="1" height="48" fill="#32cd32"/>
<rect x="978" y="134" width="3" height="47" fill="#32cd32"/>
<rect x="983" y="109" width="1" height="72" fill="#ff0000"/>
<rect x="982" y="115" width="3" height="65" fill="#ff0000"/>
<rect x="983" y="116" width="1" height="63" fill="#ff4500"/>
<rect x="987" y="97" width="1" height="48" fill="#ff0000"/>
<rect x="986" y="99" width="3" height="18" fill="#ff0000"/>
<rect x="987" y="100" width="1" height="16" fill="#ff4500"/>
<rect x="991" y="92" width="1" height="17" fill="#32cd32"/>
<rect x="990" y="99" width="3" height="4" fill="#32cd32"/>
<rect x="995" y="88" width="1" height="52" fill="#ff0000"/>
<rect x="994" y="94" width="3" height="9" fill="#ff0000"/>
<rect x="995" y="95" width="1" height="7" fill="#ff4500"/>
<rect x="999" y="84" width="1" height="45" fill="#32cd32"/>
<rect x="998" y="94" width="3" height="16" fill="#32cd32"/>
<rect x="1003" y="105" width="1" height="32" fill="#32cd32"/>
<rect x="1002" y="107" width="3" height="26" fill="#32cd32"/>
<rect x="1007" y="115" width="1" height="26" fill="#ff0000"/>
<rect x="1006" y="125" width="3" height="8" fill="#ff0000"/>
<rect x="1007" y="126" width="1" height="6" fill="#ff4500"/>
<rect x="1011" y="113" width="1" height="24" fill="#32cd32"/>
<rect x="1010" y="127" width="3" height="7" fill="#32cd32"/>
<rect x="1015" y="125" width="1" height="27" fill="#32cd32"/>
<rect x="1014" y="132" width="3" height="13" fill="#32cd32"/>
<rect x="1019" y="110" width="1" height="39" fill="#ff0000"/>
<rect x="1018" y="115" width="3" height="30" fill="#ff0000"/>
<rect x="1019" y="116" width="1" height="28" fill="#ff4500"/>
<rect x="1023" y="93" width="1" height="52" fill="#32cd32"/>
<rect x="1022" y="116" width="3" height="19" fill="#32cd32"/>
<rect x="1027" y="111" width="1" height="36" fill="#32cd32"/>
<rect x="1026" y="133" width="3" height="4" fill="#32cd32"/>
<rect x="1031" y="101" width="1" height="43" fill="#ff0000"/>
<rect x="1030" y="109" width="3" height="26" fill="#ff0000"/>
<rect x="1031" y="110" width="1" height="24" fill="#ff4500"/>
<rect x="1035" y="91" width="1" height="19" fill="#ff0000"/>
<rect x="1034" y="96" width="3" height="14" fill="#ff0000"/>
<rect x="1035" y="97" width="1" height="12" fill="#ff4500"/>
<rect x="1039" y="91" width="1" height="30" fill="#32cd32"/>
<rect x="1038" y="100" width="3" height="12" fill="#32cd32"/>
<rect x="855" y="70" width="283" height="2" fill="#ff2020"/>
<rect x="799" y="174" width="349" height="2" fill="#99cc00"/>
<rect x="830" y="248" width="326" height="2" fill="#2288e0"/>
<rect x="6" y="482" width="3" height="27" fill="#c0c0c0"/>
<rect x="10" y="482" width="3" height="30" fill="#c0c0c0"/>
<rect x="14" y="482" width="3" height="31" fill="#c0c0c0"/>
<rect x="18" y="482" width="3" height="32" fill="#c0c0c0"/>
<rect x="22" y="482" width="3" height="31" fill="#c0c0c0"/>
<rect x="26" y="482" width="3" height="29" fill="#c0c0c0"/>
<rect x="30" y="482" width="3" height="23" fill="#c0c0c0"/>
<rect x="34" y="482" width="3" height="17" fill="#c0c0c0"/>
<rect x="38" y="482" width="3" height="11" fill="#c0c0c0"/>
<rect x="42" y="482" width="3" height="5" fill="#c0c0c0"/>
<rect x="46" y="482" width="3" height="2" fill="#c0c0c0"/>
<rect x="50" y="478" width="3" height="4" fill="#c0c0c0"/>
<rect x="54" y="472" width="3" height="10" fill="#c0c0c0"/>
<rect x="58" y="470" width="3" height="12" fill="#c0c0c0"/>
<rect x="62" y="473" width="3" height="9" fill="#c0c0c0"/>
<rect x="66" y="474" width="3" height="8" fill="#c0c0c0"/>
<rect x="70" y="476" width="3" height="6" fill="#c0c0c0"/>
<rect x="74" y="476" width="3" height="6" fill="#c0c0c0"/>
<rect x="78" y="478" width="3" height="4" fill="#c0c0c0"/>
<rect x="82" y="477" width="3" height="5" fill="#c0c0c0"/>
<rect x="86" y="476" width="3" height="6" fill="#c0c0c0"/>
<rect x="90" y="474" width="3" height="8" fill="#c0c0c0"/>
<rect x="94" y="473" width="3" height="9" fill="#c0c0c0"/>
<rect x="98" y="472" width="3" height="10" fill="#c0c0c0"/>
<rect x="102" y="472" width="3" height="10" fill="#c0c0c0"/>
<rect x="106" y="471" width="3" height="11" fill="#c0c0c0"/>
<rect x="110" y="470" width="3" height="12" fill="#c0c0c0"/>
<rect x="114" y="471" width="3" height="11" fill="#c0c0c0"/>
<rect x="118" y="468" width="3" height="14" fill="#c0c0c0"/>
<rect x="122" y="466" width="3" height="16" fill="#c0c0c0"/>
<rect x="126" y="461" width="3" height="21" fill="#c0c0c0"/>
<rect x="130" y="456" width="3" height="26" fill="#c0c0c0"/>
<rect x="134" y="453" width="3" height="29" fill="#c0c0c0"/>
<rect x="138" y="453" width="3" height="29" fill="#c0c0c0"/>
<rect x="142" y="457" width="3" height="25" fill="#c0c0c0"/>
<rect x="146" y="459" width="3" height="23" fill="#c0c0c0"/>
<rect x="150" y="463" width="3" height="19" fill="#c0c0c0"/>
<rect x="154" y="465" width="3" height="17" fill="#c0c0c0"/>
<rect x="158" y="467" width="3" height="15" fill="#c0c0c0"/>
<rect x="162" y="477" width="3" height="5" fill="#c0c0c0"/>
<rect x="166" y="482" width="3" height="3" fill="#c0c0c0"/>
<rect x="170" y="482" width="3" height="10" fill="#c0c0c0"/>
<rect x="174" y="482" width="3" height="16" fill="#c0c0c0"/>
<rect x="178" y="482" width="3" height="20" fill="#c0c0c0"/>
<rect x="182" y="482" width="3" height="23" fill="#c0c0c0"/>
<rect x="186" y="482" width="3" height="26" fill="#c0c0c0"/>
<rect x="190" y="482" width="3" height="29" fill="#c0c0c0"/>
<rect x="194" y="482" width="3" height="37" fill="#c0c0c0"/>
<rect x="198" y="482" width="3" height="45" fill="#c0c0c0"/>
<rect x="202" y="482" width="3" height="49" fill="#c0c0c0"/>
<rect x="206" y="482" width="3" height="54" fill="#c0c0c0"/>
<rect x="210" y="482" width="3" height="59" fill="#c0c0c0"/>
<rect x="214" y="482" width="3" height="62" fill="#c0c0c0"/>
<rect x="218" y="482" width="3" height="62" fill="#c0c0c0"/>
<rect x="222" y="482" width="3" height="63" fill="#c0c0c0"/>
<rect x="226" y="482" width="3" height="59" fill="#c0c0c0"/>
<rect x="230" y="482" width="3" height="55" fill="#c0c0c0"/>
<rect x="234" y="482" width="3" height="51" fill="#c0c0c0"/>
<rect x="238" y="482" width="3" height="45" fill="#c0c0c0"/>
<rect x="242" y="482" width="3" height="40" fill="#c0c0c0"/>
<rect x="246" y="482" width="3" height="38" fill="#c0c0c0"/>
<rect x="250" y="482" width="3" height="29" fill="#c0c0c0"/>
<rect x="254" y="482" width="3" height="25" fill="#c0c0c0"/>
<rect x="258" y="482" width="3" height="18" fill="#c0c0c0"/>
<rect x="262" y="482" width="3" height="13" fill="#c0c0c0"/>
<rect x="266" y="482" width="3" height="8" fill="#c0c0c0"/>
<rect x="270" y="482" width="3" height="9" fill="#c0c0c0"/>
<rect x="274" y="482" width="3" height="9" fill="#c0c0c0"/>
<rect x="278" y="482" width="3" height="7" fill="#c0c0c0"/>
<rect x="282" y="482" width="3" height="2" fill="#c0c0c0"/>
<rect x="286" y="481" width="3" height="1" fill="#c0c0c0"/>
<rect x="290" y="478" width="3" height="4" fill="#c0c0c0"/>
<rect x="294" y="478" width="3" height="4" fill="#c0c0c0"/>
<rect x="298" y="469" width="3" height="13" fill="#c0c0c0"/>
<rect x="302" y="463" width="3" height="19" fill="#c0c0c0"/>
<rect x="306" y="457" width="3" height="25" fill="#c0c0c0"/>
<rect x="310" y="453" width="3" height="29" fill="#c0c0c0"/>
<rect x="314" y="451" width="3" height="31" fill="#c0c0c0"/>
<rect x="318" y="448" width="3" height="34" fill="#c0c0c0"/>
<rect x="322" y="445" width="3" height="37" fill="#c0c0c0"/>
<rect x="326" y="440" width="3" height="42" fill="#c0c0c0"/>
<rect x="330" y="436" width="3" height="46" fill="#c0c0c0"/>
<rect x="334" y="435" width="3" height="47" fill="#c0c0c0"/>
<rect x="338" y="434" width="3" height="48" fill="#c0c0c0"/>
<rect x="342" y="436" width="3" height="46" fill="#c0c0c0"/>
<rect x="346" y="442" width="3" height="40" fill="#c0c0c0"/>
<rect x="350" y="445" width="3" height="37" fill="#c0c0c0"/>
<rect x="354" y="454" width="3" height="28" fill="#c0c0c0"/>
<rect x="358" y="460" width="3" height="22" fill="#c0c0c0"/>
<rect x="362" y="462" width="3" height="20" fill="#c0c0c0"/>
<rect x="366" y="467" width="3" height="15" fill="#c0c0c0"/>
<rect x="370" y="468" width="3" height="14" fill="#c0c0c0"/>
<rect x="374" y="470" width="3" height="12" fill="#c0c0c0"/>
<rect x="378" y="471" width="3" height="11" fill="#c0c0c0"/>
<rect x="382" y="472" width="3" height="10" fill="#c0c0c0"/>
<rect x="386" y="472" width="3" height="10" fill="#c0c0c0"/>
<rect x="390" y="470" width="3" height="12" fill="#c0c0c0"/>
<rect x="394" y="471" width="3" height="11" fill="#c0c0c0"/>
<rect x="398" y="471" width="3" height="11" fill="#c0c0c0"/>
<rect x="402" y="471" width="3" height="11" fill="#c0c0c0"/>
<rect x="406" y="471" width="3" height="11" fill="#c0c0c0"/>
<rect x="410" y="471" width="3" height="11" fill="#c0c0c0"/>
<rect x="414" y="478" width="3" height="4" fill="#c0c0c0"/>
<rect x="418" y="482" width="3" height="2" fill="#c0c0c0"/>
<rect x="422" y="482" width="3" height="7" fill="#c0c0c0"/>
<rect x="426" y="482" width="3" height="12" fill="#c0c0c0"/>
<rect x="430" y="482" width="3" height="16" fill="#c0c0c0"/>
<rect x="434" y="482" width="3" height="17" fill="#c0c0c0"/>
<rect x="438" y="482" width="3" height="15" fill="#c0c0c0"/>
<rect x="442" y="482" width="3" height="15" fill="#c0c0c0"/>
<rect x="446" y="482" width="3" height="17" fill="#c0c0c0"/>
<rect x="450" y="482" width="3" height="19" fill="#c0c0c0"/>
<rect x="454" y="482" width="3" height="20" fill="#c0c0c0"/>
<rect x="458" y="482" width="3" height="21" fill="#c0c0c0"/>
<rect x="462" y="482" width="3" height="23" fill="#c0c0c0"/>
<rect x="466" y="482" width="3" height="26" fill="#c0c0c0"/>
<rect x="470" y="482" width="3" height="29" fill="#c0c0c0"/>
<rect x="474" y="482" width="3" height="31" fill="#c0c0c0"/>
<rect x="478" y="482" width="3" height="32" fill="#c0c0c0"/>
<rect x="482" y="482" width="3" height="32" fill="#c0c0c0"/>
<rect x="486" y="482" width="3" height="32" fill="#c0c0c0"/>
<rect x="490" y="482" width="3" height="34" fill="#c0c0c0"/>
<rect x="494" y="482" width="3" height="35" fill="#c0c0c0"/>
<rect x="498" y="482" width="3" height="24" fill="#c0c0c0"/>
<rect x="502" y="482" width="3" height="16" fill="#c0c0c0"/>
<rect x="506" y="482" width="3" height="8" fill="#c0c0c0"/>
<rect x="510" y="482" width="3" height="5" fill="#c0c0c0"/>
<rect x="514" y="481" width="3" height="1" fill="#c0c0c0"/>
<rect x="518" y="476" width="3" height="6" fill="#c0c0c0"/>
<rect x="522" y="472" width="3" height="10" fill="#c0c0c0"/>
<rect x="526" y="468" width="3" height="14" fill="#c0c0c0"/>
<rect x="530" y="466" width="3" height="16" fill="#c0c0c0"/>
<rect x="534" y="467" width="3" height="15" fill="#c0c0c0"/>
<rect x="538" y="471" width="3" height="11" fill="#c0c0c0"/>
<rect x="542" y="476" width="3" height="6" fill="#c0c0c0"/>
<rect x="546" y="482" width="3" height="1" fill="#c0c0c0"/>
<rect x="550" y="481" width="3" height="1" fill="#c0c0c0"/>
<rect x="554" y="480" width="3" height="2" fill="#c0c0c0"/>
<rect x="558" y="482" width="3" height="1" fill="#c0c0c0"/>
<rect x="562" y="482" width="3" height="1" fill="#c0c0c0"/>
<rect x="566" y="482" width="3" height="1" fill="#c0c0c0"/>
<rect x="570" y="482" width="3" height="1" fill="#c0c0c0"/>
<rect x="574" y="481" width="3" height="1" fill="#c0c0c0"/>
<rect x="578" y="477" width="3" height="5" fill="#c0c0c0"/>
<rect x="582" y="472" width="3" height="10" fill="#c0c0c0"/>
<rect x="586" y="470" width="3" height="12" fill="#c0c0c0"/>
<rect x="590" y="473" width="3" height="9" fill="#c0c0c0"/>
<rect x="594" y="476" width="3" height="6" fill="#c0c0c0"/>
<rect x="598" y="480" width="3" height="2" fill="#c0c0c0"/>
<rect x="602" y="482" width="3" height="1" fill="#c0c0c0"/>
<rect x="606" y="482" width="3" height="2" fill="#c0c0c0"/>
<rect x="610" y="482" width="3" height="5" fill="#c0c0c0"/>
<rect x="614" y="482" width="3" height="5" fill="#c0c0c0"/>
<rect x="618" y="482" width="3" height="5" fill="#c0c0c0"/>
<rect x="622" y="482" width="3" height="5" fill="#c0c0c0"/>
<rect x="626" y="482" width="3" height="6" fill="#c0c0c0"/>
<rect x="630" y="482" width="3" height="7" fill="#c0c0c0"/>
<rect x="634" y="482" width="3" height="1" fill="#c0c0c0"/>
<rect x="638" y="479" width="3" height="3" fill="#c0c0c0"/>
<rect x="642" y="477" width="3" height="5" fill="#c0c0c0"/>
<rect x="646" y="475" width="3" height="7" fill="#c0c0c0"/>
<rect x="650" y="474" width="3" height="8" fill="#c0c0c0"/>
<rect x="654" y="474" width="3" height="8" fill="#c0c0c0"/>
<rect x="658" y="472" width="3" height="10" fill="#c0c0c0"/>
<rect x="662" y="470" width="3" height="12" fill="#c0c0c0"/>
<rect x="666" y="465" width="3" height="17" fill="#c0c0c0"/>
<rect x="670" y="460" width="3" height="22" fill="#c0c0c0"/>
<rect x="674" y="457" width="3" height="25" fill="#c0c0c0"/>
<rect x="678" y="458" width="3" height="24" fill="#c0c0c0"/>
<rect x="682" y="458" width="3" height="24" fill="#c0c0c0"/>
<rect x="686" y="462" width="3" height="20" fill="#c0c0c0"/>
<rect x="690" y="469" width="3" height="13" fill="#c0c0c0"/>
<rect x="694" y="472" width="3" height="10" fill="#c0c0c0"/>
<rect x="698" y="475" width="3" height="7" fill="#c0c0c0"/>
<rect x="702" y="475" width="3" height="7" fill="#c0c0c0"/>
<rect x="706" y="480" width="3" height="2" fill="#c0c0c0"/>
<rect x="710" y="482" width="3" height="4" fill="#c0c0c0"/>
<rect x="714" y="482" width="3" height="9" fill="#c0c0c0"/>
<rect x="718" y="482" width="3" height="11" fill="#c0c0c0"/>
<rect x="722" y="482" width="3" height="14" fill="#c0c0c0"/>
<rect x="726" y="482" width="3" height="14" fill="#c0c0c0"/>
<rect x="730" y="482" width="3" height="12" fill="#c0c0c0"/>
<rect x="734" y="482" width="3" height="9" fill="#c0c0c0"/>
<rect x="738" y="482" width="3" height="7" fill="#c0c0c0"/>
<rect x="742" y="482" width="3" height="5" fill="#c0c0c0"/>
<rect x="746" y="482" width="3" height="3" fill="#c0c0c0"/>
<rect x="750" y="482" width="3" height="1" fill="#c0c0c0"/>
<rect x="754" y="482" width="3" height="3" fill="#c0c0c0"/>
<rect x="758" y="482" width="3" height="4" fill="#c0c0c0"/>
<rect x="762" y="482" width="3" height="3" fill="#c0c0c0"/>
<rect x="766" y="482" width="3" height="3" fill="#c0c0c0"/>
<rect x="770" y="482" width="3" height="4" fill="#c0c0c0"/>
<rect x="774" y="482" width="3" height="10" fill="#c0c0c0"/>
<rect x="778" y="482" width="3" height="17" fill="#c0c0c0"/>
<rect x="782" y="482" width="3" height="20" fill="#c0c0c0"/>
<rect x="786" y="482" width="3" height="22" fill="#c0c0c0"/>
<rect x="790" y="482" width="3" height="22" fill="#c0c0c0"/>
<rect x="794" y="482" width="3" height="22" fill="#c0c0c0"/>
<rect x="798" y="482" width="3" height="18" fill="#c0c0c0"/>
<rect x="802" y="482" width="3" height="15" fill="#c0c0c0"/>
<rect x="806" y="482" width="3" height="13" fill="#c0c0c0"/>
<rect x="810" y="482" width="3" height="10" fill="#c0c0c0"/>
<rect x="814" y="482" width="3" height="7" fill="#c0c0c0"/>
<rect x="818" y="482" width="3" height="6" fill="#c0c0c0"/>
<rect x="822" y="482" width="3" height="1" fill="#c0c0c0"/>
<rect x="826" y="479" width="3" height="3" fill="#c0c0c0"/>
<rect x="830" y="478" width="3" height="4" fill="#c0c0c0"/>
<rect x="834" y="477" width="3" height="5" fill="#c0c0c0"/>
<rect x="838" y="474" width="3" height="8" fill="#c0c0c0"/>
<rect x="842" y="471" width="3" height="11" fill="#c0c0c0"/>
<rect x="846" y="467" width="3" height="15" fill="#c0c0c0"/>
<rect x="850" y="461" width="3" height="21" fill="#c0c0c0"/>
<rect x="854" y="458" width="3" height="24" fill="#c0c0c0"/>
<rect x="858" y="461" width="3" height="21" fill="#c0c0c0"/>
<rect x="862" y="463" width="3" height="19" fill="#c0c0c0"/>
<rect x="866" y="461" width="3" height="21" fill="#c0c0c0"/>
<rect x="870" y="452" width="3" height="30" fill="#c0c0c0"/>
<rect x="874" y="449" width="3" height="33" fill="#c0c0c0"/>
<rect x="878" y="451" width="3" height="31" fill="#c0c0c0"/>
<rect x="882" y="446" width="3" height="36" fill="#c0c0c0"/>
<rect x="886" y="445" width="3" height="37" fill="#c0c0c0"/>
<rect x="890" y="444" width="3" height="38" fill="#c0c0c0"/>
<rect x="894" y="448" width="3" height="34" fill="#c0c0c0"/>
<rect x="898" y="454" width="3" height="28" fill="#c0c0c0"/>
<rect x="902" y="456" width="3" height="26" fill="#c0c0c0"/>
<rect x="906" y="464" width="3" height="18" fill="#c0c0c0"/>
<rect x="910" y="468" width="3" height="14" fill="#c0c0c0"/>
<rect x="914" y="473" width="3" height="9" fill="#c0c0c0"/>
<rect x="918" y="474" width="3" height="8" fill="#c0c0c0"/>
<rect x="922" y="472" width="3" height="10" fill="#c0c0c0"/>
<rect x="926" y="472" width="3" height="10" fill="#c0c0c0"/>
<rect x="930" y="474" width="3" height="8" fill="#c0c0c0"/>
<rect x="934" y="475" width="3" height="7" fill="#c0c0c0"/>
<rect x="938" y="475" width="3" height="7" fill="#c0c0c0"/>
<rect x="942" y="476" width="3" height="6" fill="#c0c0c0"/>
<rect x="946" y="479" width="3" height="3" fill="#c0c0c0"/>
<rect x="950" y="481" width="3" height="1" fill="#c0c0c0"/>
<rect x="954" y="480" width="3" height="2" fill="#c0c0c0"/>
<rect x="958" y="482" width="3" height="4" fill="#c0c0c0"/>
<rect x="962" y="482" width="3" height="5" fill="#c0c0c0"/>
<rect x="966" y="482" width="3" height="6" fill="#c0c0c0"/>
<rect x="970" y="482" width="3" height="4" fill="#c0c0c0"/>
<rect x="974" y="481" width="3" height="1" fill="#c0c0c0"/>
<rect x="978" y="481" width="3" height="1" fill="#c0c0c0"/>
<rect x="982" y="476" width="3" height="6" fill="#c0c0c0"/>
<rect x="986" y="470" width="3" height="12" fill="#c0c0c0"/>
<rect x="990" y="466" width="3" height="16" fill="#c0c0c0"/>
<rect x="994" y="462" width="3" height="20" fill="#c0c0c0"/>
<rect x="998" y="461" width="3" height="21" fill="#c0c0c0"/>
<rect x="1002" y="462" width="3" height="20" fill="#c0c0c0"/>
<rect x="1006" y="463" width="3" height="19" fill="#c0c0c0"/>
<rect x="1010" y="464" width="3" height="18" fill="#c0c0c0"/>
<rect x="1014" y="466" width="3" height="16" fill="#c0c0c0"/>
<rect x="1018" y="466" width="3" height="16" fill="#c0c0c0"/>
<rect x="1022" y="467" width="3" height="15" fill="#c0c0c0"/>
<rect x="1026" y="468" width="3" height="14" fill="#c0c0c0"/>
<rect x="1030" y="467" width="3" height="15" fill="#c0c0c0"/>
<rect x="1034" y="465" width="3" height="17" fill="#c0c0c0"/>
<rect x="1038" y="466" width="3" height="16" fill="#c0c0c0"/>
<polyline points="7.5,508.9 11.5,509.6 15.5,510.1 19.5,510.7 23.5,511.1 27.5,511.2 31.5,510.8 35.5,509.7 39.5,508.1 43.5,505.6 47.5,502.4 51.5,498.6 55.5,494.0 59.5,489.3 63.5,485.1 67.5,481.7 71.5,479.2 75.5,477.3 79.5,476.3 83.5,475.5 87.5,475.3 91.5,475.4 95.5,475.7 99.5,475.6 103.5,475.4 107.5,474.9 111.5,474.2 115.5,473.4 119.5,472.4 123.5,471.3 127.5,469.9 131.5,468.0 135.5,466.0 139.5,463.8 143.5,462.2 147.5,461.0 151.5,460.2 155.5,459.9 159.5,460.0 163.5,461.7 167.5,464.9 171.5,469.3 175.5,474.3 179.5,479.3 183.5,484.3 187.5,489.3 191.5,494.4 195.5,500.2 199.5,505.7 203.5,510.8 207.5,515.7 211.5,520.5 215.5,525.1 219.5,529.5 223.5,533.6 227.5,537.0 231.5,538.9 235.5,539.7 239.5,539.2 243.5,537.5 247.5,535.2 251.5,531.6 255.5,527.5 259.5,522.5 263.5,517.4 267.5,512.3 271.5,507.5 275.5,503.5 279.5,499.9 283.5,495.8 287.5,492.5 291.5,489.2 295.5,486.7 299.5,483.8 303.5,480.8 307.5,477.1 311.5,472.9 315.5,468.6 319.5,464.7 323.5,460.6 327.5,456.3 331.5,451.8 335.5,448.0 339.5,444.7 343.5,442.3 347.5,441.1 351.5,440.5 355.5,441.1 359.5,442.8 363.5,445.3 367.5,448.7 371.5,452.4 375.5,456.4 379.5,460.4 383.5,463.7 387.5,466.6 391.5,468.5 395.5,469.7 399.5,470.7 403.5,471.2 407.5,471.5 411.5,471.6 415.5,472.3 419.5,473.6 423.5,475.5 427.5,478.2 431.5,481.2 435.5,484.3 439.5,487.1 443.5,490.0 447.5,493.1 451.5,495.7 455.5,497.7 459.5,499.3 463.5,500.5 467.5,501.6 471.5,503.0 475.5,504.8 479.5,506.7 483.5,508.4 487.5,509.9 491.5,511.5 495.5,513.1 499.5,513.2 503.5,512.1 507.5,509.7 511.5,506.9 515.5,503.2 519.5,499.0 523.5,494.3 527.5,489.0 531.5,483.3 535.5,478.9 539.5,475.9 543.5,474.4 547.5,473.8 551.5,473.8 555.5,474.2 559.5,475.2 563.5,476.8 567.5,478.6 571.5,480.4 575.5,481.5 579.5,481.5 583.5,480.4 587.5,479.1 591.5,478.3 595.5,477.7 599.5,477.5 603.5,477.6 607.5,477.7 611.5,478.4 615.5,479.6 619.5,481.3 623.5,483.3 627.5,485.0 631.5,486.4 635.5,486.7 639.5,486.2 643.5,485.4 647.5,484.1 651.5,482.7 655.5,481.2 659.5,479.6 663.5,477.5 667.5,474.9 671.5,472.4 675.5,469.9 679.5,467.8 683.5,465.9 687.5,464.5 691.5,463.9 695.5,463.9 699.5,464.5 703.5,465.5 707.5,467.8 711.5,471.1 715.5,474.7 719.5,478.6 723.5,482.3 727.5,485.4 731.5,487.8 735.5,489.6 739.5,491.2 743.5,491.9 747.5,491.8 751.5,491.0 755.5,490.1 759.5,489.1 763.5,487.8 767.5,486.8 771.5,486.2 775.5,486.6 779.5,487.9 783.5,489.7 787.5,492.0 791.5,494.0 795.5,495.9 799.5,497.6 803.5,499.0 807.5,500.0 811.5,500.0 815.5,498.9 819.5,497.3 823.5,494.9 827.5,492.1 831.5,489.2 835.5,486.7 839.5,484.1 843.5,481.5 847.5,478.7 851.5,475.7 855.5,472.3 859.5,470.0 863.5,468.1 867.5,466.3 871.5,463.5 875.5,460.7 879.5,458.5 883.5,456.1 887.5,454.4 891.5,452.9 895.5,451.5 899.5,450.5 903.5,450.0 907.5,451.3 911.5,453.4 915.5,455.9 919.5,459.0 923.5,461.9 927.5,465.0 931.5,467.9 935.5,470.3 939.5,472.4 943.5,473.7 947.5,474.9 951.5,475.8 955.5,476.6 959.5,478.2 963.5,479.9 967.5,481.4 971.5,482.6 975.5,483.2 979.5,483.8 983.5,483.4 987.5,482.2 991.5,480.5 995.5,477.9 999.5,475.0 1003.5,472.1 1007.5,469.5 1011.5,467.6 1015.5,466.0 1019.5,464.8 1023.5,464.5 1027.5,464.8 1031.5,465.3 1035.5,465.9 1039.5,466.2" fill="none" stroke="#ff0000" stroke-width="1"/>
<rect x="6.5" y="30.5" width="1301" height="395" fill="none" stroke="#000" stroke-width="1"/>
<rect x="6.5" y="427.5" width="1301" height="124" fill="none" stroke="#000" stroke-width="1"/>
</svg>
<div class="t ax" id="p0" style="left:1313.6px;top:56px;transform:scaleX(0.9047);transform-origin:0 0">1.14915</div>
<div class="t ax" id="p1" style="left:1313.6px;top:89px;transform:scaleX(0.9047);transform-origin:0 0">1.14660</div>
<div class="t ax" id="p2" style="left:1313.6px;top:122px;transform:scaleX(0.9047);transform-origin:0 0">1.14400</div>
<div class="t ax" id="p3" style="left:1313.6px;top:155px;transform:scaleX(0.9047);transform-origin:0 0">1.14145</div>
<div class="t ax" id="p4" style="left:1313.6px;top:188px;transform:scaleX(0.9047);transform-origin:0 0">1.13885</div>
<div class="t ax" id="p5" style="left:1313.6px;top:221px;transform:scaleX(0.9047);transform-origin:0 0">1.13630</div>
<div class="t ax" id="p6" style="left:1313.6px;top:254px;transform:scaleX(0.9047);transform-origin:0 0">1.13375</div>
<div class="t ax" id="p7" style="left:1313.6px;top:287px;transform:scaleX(0.9237);transform-origin:0 0">1.13115</div>
<div class="t ax" id="p8" style="left:1313.6px;top:320px;transform:scaleX(0.9047);transform-origin:0 0">1.12860</div>
<div class="t ax" id="p9" style="left:1313.6px;top:353px;transform:scaleX(0.9047);transform-origin:0 0">1.12600</div>
<div class="t ax" id="p10" style="left:1313.6px;top:386px;transform:scaleX(0.9047);transform-origin:0 0">1.12345</div>
<div class="t ax" id="p11" style="left:1313.6px;top:419px;transform:scaleX(0.9047);transform-origin:0 0">1.12090</div>
<div class="t ax" id="m0" style="left:1311px;top:431.3px;transform:scaleX(0.9150);transform-origin:0 0">0.003847</div>
<div class="t ax" id="m1" style="left:1311.6px;top:479px;transform:scaleX(0.9046);transform-origin:0 0">0.00</div>
<div class="t ax" id="m2" style="left:1310.5px;top:541.3px;transform:scaleX(0.9172);transform-origin:0 0">-0.004856</div>
<div class="abs" style="left:1309px;top:106px;width:41px;height:10px;background:#000"></div>
<div class="t ax" id="cp" style="left:1313.6px;top:107.3px;color:#fff;-webkit-text-stroke:0.25px #fff;transform:scaleX(0.9047);transform-origin:0 0">1.14520</div>
<div class="t ax" id="t0" style="left:6.3px;top:557px;transform:scaleX(0.9329);transform-origin:0 0">31 Oct 2018</div>
<div class="t ax" id="t1" style="left:70.3px;top:557px;transform:scaleX(0.9725);transform-origin:0 0">5 Nov 07:00</div>
<div class="t ax" id="t2" style="left:134.3px;top:557px;transform:scaleX(0.9725);transform-origin:0 0">7 Nov 23:00</div>
<div class="t ax" id="t3" style="left:198.3px;top:557px;transform:scaleX(0.9617);transform-origin:0 0">12 Nov 15:00</div>
<div class="t ax" id="t4" style="left:262.3px;top:557px;transform:scaleX(0.9617);transform-origin:0 0">15 Nov 04:00</div>
<div class="t ax" id="t5" style="left:326.3px;top:557px;transform:scaleX(0.9617);transform-origin:0 0">19 Nov 23:00</div>
<div class="t ax" id="t6" style="left:390.3px;top:557px;transform:scaleX(0.9617);transform-origin:0 0">22 Nov 15:00</div>
<div class="t ax" id="t7" style="left:454.3px;top:557px;transform:scaleX(0.9617);transform-origin:0 0">27 Nov 04:00</div>
<div class="t ax" id="t8" style="left:518.3px;top:557px;transform:scaleX(0.9617);transform-origin:0 0">29 Nov 23:00</div>
<div class="t ax" id="t9" style="left:582.3px;top:557px;transform:scaleX(0.9274);transform-origin:0 0">4 Dec 15:00</div>
<div class="t ax" id="t10" style="left:646.3px;top:557px;transform:scaleX(0.9274);transform-origin:0 0">7 Dec 04:00</div>
<div class="t ax" id="t11" style="left:710.3px;top:557px;transform:scaleX(0.9394);transform-origin:0 0">11 Dec 23:00</div>
<div class="t ax" id="t12" style="left:774.3px;top:557px;transform:scaleX(0.9277);transform-origin:0 0">14 Dec 15:00</div>
<div class="t ax" id="t13" style="left:838.3px;top:557px;transform:scaleX(0.9277);transform-origin:0 0">19 Dec 04:00</div>
<div class="t ax" id="t14" style="left:902.3px;top:557px;transform:scaleX(0.9277);transform-origin:0 0">21 Dec 23:00</div>
<div class="t ax" id="t15" style="left:966.3px;top:557px;transform:scaleX(0.9394);transform-origin:0 0">27 Dec 11:00</div>
<div class="t ax" id="t16" style="left:1030.3px;top:557px;transform:scaleX(0.9201);transform-origin:0 0">1 Jan 00:00</div>
<svg class="abs" style="left:9px;top:35px" width="9" height="7"><path d="M1 6 L4.5 2 L8 6 Z" fill="#000"/></svg>
<div class="t ax" id="title" style="left:22.4px;top:35px;transform:scaleX(0.9374);transform-origin:0 0">EURUSD,H4&nbsp; 1.14596 1.14669 1.14449 1.14520</div>
<div class="t ax" id="macdt" style="left:11.3px;top:433px;transform:scaleX(0.9516);transform-origin:0 0">MACD(12,26,9) 0.001178 0.001163</div>
<div class="abs" style="left:10px;top:50px;width:219px;height:66px;background:#fff"></div>
<div class="abs" style="left:10px;top:50px;width:52px;height:24px;background:linear-gradient(#5555f5,#3c3ce0)"></div>
<div class="abs" style="left:177px;top:50px;width:52px;height:24px;background:linear-gradient(#5555f5,#3c3ce0)"></div>
<div class="abs" style="left:10px;top:74px;width:109px;height:40px;background:linear-gradient(#3232d8,#0000a6)"></div>
<div class="abs" style="left:119px;top:74px;width:2px;height:40px;background:#fff"></div>
<div class="abs" style="left:121px;top:74px;width:108px;height:40px;background:linear-gradient(#3232d8,#0000a6)"></div>
<div class="abs" style="left:14px;top:74px;width:44px;height:1px;background:#1a1ab0"></div>
<div class="abs" style="left:181px;top:74px;width:44px;height:1px;background:#1a1ab0"></div>
<!-- input -->
<div class="abs" style="left:64px;top:50px;width:111px;height:22px;background:#fff;border:1px solid #b4b4b4;box-sizing:border-box"></div>
<div class="abs" style="left:65px;top:51px;width:20px;height:20px;background:linear-gradient(#ececec,#c4c4c4);border-right:1px solid #c0c0c0;box-sizing:border-box"></div>
<div class="abs" style="left:154px;top:51px;width:20px;height:20px;background:linear-gradient(#ececec,#c4c4c4);border-left:1px solid #c0c0c0;box-sizing:border-box"></div>
<div class="abs" style="left:85px;top:51px;width:1px;height:20px;background:#b8b8b8"></div><div class="abs" style="left:153px;top:51px;width:1px;height:20px;background:#b8b8b8"></div>
<svg class="abs" style="left:66px;top:52px" width="110" height="18"><path d="M6 7 L11 7 L8.5 10 Z" fill="#4a5fc0"/><path d="M95.5 10 L100.5 10 L98 7 Z" fill="#4a5fc0"/></svg>
<div class="t" style="left:126.2px;top:55px;font-size:12.4px;color:#000;transform:scaleX(0.985);transform-origin:0 0">0.01</div>
<div class="t" id="sell" style="left:22px;top:56px;font-size:12px;color:#fff;transform:scaleX(0.88);transform-origin:0 0">SELL</div>
<div class="t" id="buy" style="left:191px;top:56px;font-size:12px;color:#fff;transform:scaleX(0.88);transform-origin:0 0">BUY</div>
<div class="t" style="left:30.5px;top:95px;font-size:12px;font-weight:bold;color:#fff">1.14</div>
<div class="t" style="left:140.5px;top:95px;font-size:12px;font-weight:bold;color:#fff">1.14</div>
<div class="t" id="bigL" style="left:59px;top:79.5px;font-size:30.5px;color:#fff;font-family:'DejaVu Sans Light','DejaVu Sans',sans-serif;font-weight:200;-webkit-text-stroke:0.9px #fff;transform:scaleX(0.88);transform-origin:0 0">52</div>
<div class="t" id="bigR" style="left:169px;top:79.5px;font-size:30.5px;color:#fff;font-family:'DejaVu Sans Light','DejaVu Sans',sans-serif;font-weight:200;-webkit-text-stroke:0.9px #fff;transform:scaleX(0.88);transform-origin:0 0">53</div>
<div class="t" style="left:97px;top:79px;font-size:12.5px;font-weight:bold;color:#fff">0</div>
<div class="t" style="left:208px;top:79px;font-size:12.5px;font-weight:bold;color:#fff">9</div>

</body></html>
